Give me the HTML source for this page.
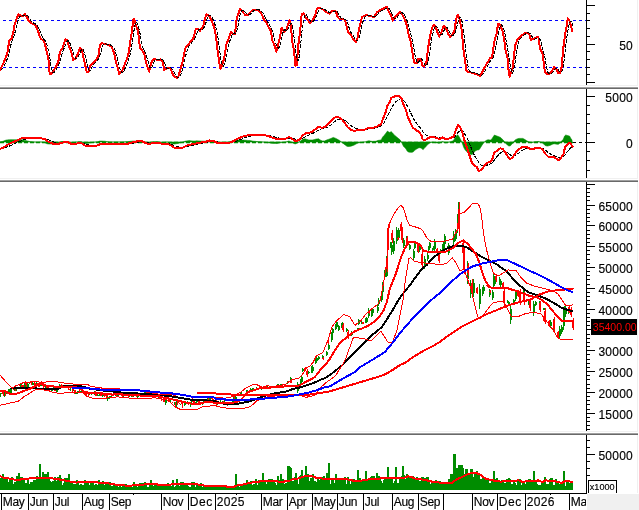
<!DOCTYPE html>
<html><head><meta charset="utf-8"><style>
html,body{margin:0;padding:0;background:#fff;}
body{width:639px;height:510px;overflow:hidden;}
svg{display:block;}
</style></head><body>
<svg width="639" height="510" viewBox="0 0 639 510">
<rect width="639" height="510" fill="#fff"/>
<rect x="0" y="85" width="637" height="1" fill="#f0f0f0"/>
<rect x="637" y="0" width="1" height="86" fill="#f0f0f0"/>
<rect x="0" y="178" width="637" height="1" fill="#f0f0f0"/>
<rect x="637" y="89" width="1" height="90" fill="#f0f0f0"/>
<rect x="0" y="431" width="637" height="1" fill="#f0f0f0"/>
<rect x="637" y="182" width="1" height="250" fill="#f0f0f0"/>
<rect x="637" y="435" width="1" height="58" fill="#f0f0f0"/>
<rect x="0" y="87" width="638" height="1" fill="#a0a0a0"/>
<rect x="0" y="88" width="638" height="1" fill="#696969"/>
<rect x="0" y="180" width="638" height="1" fill="#a0a0a0"/>
<rect x="0" y="181" width="638" height="1" fill="#696969"/>
<rect x="0" y="433" width="638" height="1" fill="#a0a0a0"/>
<rect x="0" y="434" width="638" height="1" fill="#696969"/>
<g shape-rendering="crispEdges">
<line x1="3" y1="20.5" x2="586" y2="20.5" stroke="#0000ff" stroke-width="1" stroke-dasharray="3 3"/>
<line x1="3" y1="67.5" x2="586" y2="67.5" stroke="#0000ff" stroke-width="1" stroke-dasharray="3 3"/>
</g>
<polyline points="0.0,70.0 3.3,63.3 5.8,57.5 7.5,52.5 9.2,40.8 11.7,38.3 13.3,32.5 14.2,25.8 16.7,18.3 18.7,14.2 20.8,15.8 23.3,15.8 25.0,14.2 26.7,16.7 29.2,21.7 31.7,23.3 34.2,24.2 35.8,25.8 38.3,31.7 40.0,37.5 41.3,39.2 43.3,40.0 45.0,44.2 46.7,51.7 48.3,57.5 49.2,70.0 50.0,74.2 51.7,73.3 55.0,68.3 58.3,61.7 60.0,51.7 62.5,48.3 65.3,39.2 66.7,40.0 69.2,46.7 71.7,53.3 73.3,60.0 75.8,58.3 78.3,52.5 80.0,47.5 82.0,50.0 83.3,56.7 85.0,64.2 86.7,71.7 88.3,72.5 90.0,65.8 92.5,63.3 95.8,60.0 98.3,56.7 100.0,45.0 101.7,43.0 104.2,44.2 108.3,44.7 111.7,46.7 114.2,53.3 115.8,61.7 117.5,66.7 119.2,74.2 121.7,71.7 124.2,65.8 126.7,59.2 128.3,55.0 130.0,43.3 131.7,33.3 133.3,20.0 134.2,19.2 135.8,25.0 138.0,30.8 140.0,48.3 142.5,50.8 144.2,53.3 145.8,61.7 147.5,66.7 149.2,71.7 150.8,64.2 152.5,60.0 155.0,58.8 157.5,60.3 160.8,59.2 163.0,62.5 164.2,70.0 166.7,68.3 170.0,67.5 171.7,71.7 174.2,76.7 176.7,78.0 178.3,76.7 180.8,68.3 182.5,61.7 184.2,53.3 185.8,46.7 188.3,44.7 190.8,40.8 193.3,38.3 195.8,29.2 198.3,29.2 200.0,30.8 203.3,25.8 205.0,18.3 206.7,14.2 209.2,15.8 211.7,20.8 214.2,27.5 215.8,35.0 217.5,50.0 219.2,61.7 220.3,68.7 221.7,66.7 224.2,58.3 226.7,43.3 229.2,37.5 230.8,31.7 232.5,33.3 235.0,34.2 236.7,18.3 238.3,14.2 240.0,8.7 242.5,11.7 245.0,14.7 248.3,14.7 250.8,11.7 253.3,9.5 256.7,9.5 259.2,10.8 261.7,14.2 264.2,20.0 266.7,23.3 269.2,28.3 270.8,30.8 272.5,40.8 274.7,45.8 276.3,51.7 278.3,44.2 280.0,36.7 281.7,27.5 284.2,31.7 286.3,30.0 288.3,23.3 289.5,20.0 290.8,25.0 292.5,43.3 294.2,51.7 295.3,65.8 296.7,65.0 298.3,45.0 300.0,33.0 301.7,14.2 303.7,13.3 305.8,17.5 308.3,20.8 310.3,23.0 312.5,20.0 315.0,15.8 316.7,9.2 319.2,7.5 322.5,9.2 325.8,11.7 329.2,13.7 332.5,10.8 335.8,11.3 337.5,16.7 339.2,18.7 342.5,18.8 345.0,20.0 346.7,26.7 348.3,32.5 350.8,35.0 353.3,39.2 355.8,42.5 357.5,38.3 359.2,28.3 360.8,21.7 362.0,16.7 364.2,16.3 366.7,15.0 370.0,16.3 374.2,16.7 376.7,12.5 380.0,10.3 383.3,8.7 386.7,7.0 388.3,10.8 390.8,15.0 392.8,20.8 395.0,17.5 397.5,14.2 400.0,11.7 402.5,15.0 405.0,20.0 406.7,25.0 408.3,33.3 410.8,41.7 412.5,53.3 414.2,62.5 416.7,63.0 418.3,58.7 420.8,58.7 422.2,65.8 424.2,66.7 426.3,63.3 428.3,46.7 430.0,36.7 432.0,27.5 434.2,25.0 435.8,27.5 437.5,32.5 439.2,36.7 441.3,32.5 443.7,25.8 445.8,27.5 448.3,34.2 450.0,36.7 452.5,34.2 454.2,31.7 455.8,21.7 457.2,15.3 458.3,15.3 460.0,20.8 461.7,30.0 463.3,48.3 465.0,60.0 466.3,70.8 468.3,72.0 470.8,72.5 474.2,73.3 477.5,74.7 480.0,75.8 482.5,71.7 485.0,66.7 487.5,62.5 490.0,58.3 492.0,57.5 493.3,48.3 495.0,38.3 496.7,33.3 498.0,24.2 499.2,23.7 500.8,26.7 502.5,30.8 504.2,40.0 505.8,51.7 507.5,57.5 508.7,71.7 509.7,76.7 510.8,73.3 512.5,68.3 514.2,55.0 515.0,45.8 517.5,39.2 520.0,36.7 522.5,35.0 525.0,32.5 527.5,32.5 530.0,35.8 530.8,40.0 532.5,39.2 535.0,38.3 538.3,36.7 540.0,48.3 542.5,53.3 544.2,66.7 545.0,72.5 547.5,74.2 550.0,73.3 552.5,70.0 554.2,66.7 556.3,69.2 558.3,73.3 560.0,73.3 561.7,66.7 563.3,48.3 565.0,35.0 566.7,25.8 567.8,18.3 569.2,20.0 570.8,25.0 572.2,30.8" fill="none" stroke="#ff0000" stroke-width="2" stroke-linejoin="round" stroke-linecap="round" shape-rendering="crispEdges" />
<polyline points="0.8,70.0 2.0,68.8 3.3,67.5 4.5,65.0 5.7,62.3 7.0,59.5 8.2,56.3 9.4,51.4 10.6,46.0 11.9,41.3 13.1,38.4 14.3,35.3 15.6,30.3 16.8,25.1 18.0,20.6 19.3,17.5 20.5,15.6 21.7,15.2 22.9,15.5 24.2,15.8 25.4,15.4 26.6,15.2 27.9,15.8 29.1,17.6 30.3,19.7 31.6,21.5 32.8,22.7 34.0,23.3 35.2,23.9 36.5,24.7 37.7,26.2 38.9,28.5 40.2,31.7 41.4,35.0 42.6,37.7 43.8,39.2 45.1,40.6 46.3,42.9 47.5,46.9 48.8,51.5 50.0,59.4 51.2,66.8 52.5,72.4 53.7,72.9 54.9,71.5 56.1,69.6 57.4,67.5 58.6,65.1 59.8,61.7 61.1,57.1 62.3,52.8 63.5,49.5 64.8,46.9 66.0,43.6 67.2,41.0 68.4,40.6 69.7,42.7 70.9,45.8 72.1,49.1 73.4,52.8 74.6,56.3 75.8,58.5 77.1,58.6 78.3,56.8 79.5,54.3 80.7,51.1 82.0,49.3 83.2,49.6 84.4,53.1 85.7,58.0 86.9,63.6 88.1,68.2 89.4,70.8 90.6,70.0 91.8,67.6 93.1,65.0 94.3,63.5 95.5,62.3 96.7,61.1 98.0,59.7 99.2,58.0 100.4,53.9 101.7,49.2 102.9,44.9 104.1,43.7 105.4,43.7 106.6,44.1 107.8,44.4 109.0,44.5 110.3,44.9 111.5,45.4 112.7,46.3 114.0,48.0 115.2,50.7 116.4,55.2 117.7,59.9 118.9,64.9 120.1,69.4 121.3,72.1 122.6,72.8 123.8,71.0 125.0,68.6 126.3,65.6 127.5,62.5 128.7,59.2 130.0,54.8 131.2,48.7 132.4,41.3 133.6,32.9 134.9,25.7 136.1,22.1 137.3,23.1 138.6,26.8 139.8,32.2 141.0,39.4 142.3,45.9 143.5,49.8 144.7,51.2 145.9,54.1 147.2,58.2 148.4,62.9 149.6,67.0 150.9,68.4 152.1,67.1 153.3,63.5 154.5,60.8 155.8,59.4 157.0,59.2 158.2,59.5 159.5,59.9 160.7,59.9 161.9,59.7 163.2,60.2 164.4,62.5 165.6,65.8 166.8,68.2 168.1,68.8 169.3,68.3 170.5,67.9 171.8,68.4 173.0,70.1 174.2,72.6 175.5,74.9 176.7,76.6 177.9,77.4 179.1,77.3 180.4,75.5 181.6,72.4 182.8,68.0 184.1,63.2 185.3,57.8 186.5,52.3 187.8,48.3 189.0,45.8 190.2,44.5 191.4,42.9 192.7,41.2 193.9,39.7 195.1,37.6 196.4,34.3 197.6,31.3 198.8,29.5 200.1,29.5 201.3,29.8 202.5,29.5 203.7,28.2 205.0,25.5 206.2,21.9 207.4,17.9 208.7,15.5 209.9,15.0 211.1,16.2 212.4,18.1 213.6,20.8 214.8,23.8 216.0,27.7 217.3,33.5 218.5,41.6 219.7,50.8 221.0,59.7 222.2,65.0 223.4,66.2 224.7,63.4 225.9,58.7 227.1,52.7 228.3,46.6 229.6,41.8 230.8,38.1 232.0,35.1 233.3,33.3 234.5,33.0 235.7,33.7 237.0,30.4 238.2,24.7 239.4,17.7 240.6,13.0 241.9,10.8 243.1,10.2 244.3,11.5 245.6,12.9 246.8,14.0 248.0,14.6 249.3,14.6 250.5,14.1 251.7,13.0 252.9,11.7 254.2,10.5 255.4,9.8 256.6,9.5 257.9,9.6 259.1,9.8 260.3,10.4 261.6,11.5 262.8,13.0 264.0,15.2 265.2,17.6 266.5,20.0 267.7,22.0 268.9,24.0 270.2,26.2 271.4,28.4 272.6,32.0 273.9,36.5 275.1,41.3 276.3,45.3 277.5,47.9 278.8,48.1 280.0,45.2 281.2,40.0 282.5,34.1 283.7,30.5 284.9,29.6 286.2,30.6 287.4,30.5 288.6,28.2 289.8,25.1 291.1,23.0 292.3,25.6 293.5,33.4 294.8,42.6 296.0,53.2 297.2,60.1 298.5,60.9 299.7,53.0 300.9,41.8 302.1,30.2 303.4,21.2 304.6,15.1 305.8,14.4 307.1,15.9 308.3,17.9 309.5,19.7 310.8,21.2 312.0,21.9 313.2,21.5 314.4,20.0 315.7,18.1 316.9,15.2 318.1,12.1 319.4,9.4 320.6,8.2 321.8,8.1 323.1,8.4 324.3,9.2 325.5,10.0 326.8,10.9 328.0,11.7 329.2,12.5 330.4,13.0 331.7,12.9 332.9,12.2 334.1,11.4 335.4,11.1 336.6,11.1 337.8,12.5 339.1,14.7 340.3,17.2 341.5,18.3 342.7,18.7 344.0,18.9 345.2,19.2 346.4,20.4 347.7,23.2 348.9,27.2 350.1,30.8 351.4,33.3 352.6,35.0 353.8,36.7 355.0,38.6 356.3,40.4 357.5,40.9 358.7,39.4 360.0,34.9 361.2,29.2 362.4,23.4 363.7,19.4 364.9,17.1 366.1,16.2 367.3,15.7 368.6,15.4 369.8,15.5 371.0,15.9 372.3,16.2 373.5,16.4 374.7,16.6 376.0,16.1 377.2,14.9 378.4,13.3 379.6,12.0 380.9,11.1 382.1,10.3 383.3,9.7 384.6,9.1 385.8,8.5 387.0,7.9 388.3,8.0 389.5,9.2 390.7,11.2 391.9,13.6 393.2,16.3 394.4,18.4 395.6,19.0 396.9,17.8 398.1,16.1 399.3,14.6 400.6,13.2 401.8,12.7 403.0,13.2 404.2,14.8 405.5,16.9 406.7,19.6 407.9,23.1 409.2,27.8 410.4,32.8 411.6,37.7 412.9,43.2 414.1,49.9 415.3,56.8 416.5,61.0 417.8,62.5 419.0,61.4 420.2,60.0 421.5,58.8 422.7,60.5 423.9,63.0 425.2,65.6 426.4,65.7 427.6,63.3 428.8,57.5 430.1,49.6 431.3,41.4 432.5,34.7 433.8,29.9 435.0,26.7 436.2,26.1 437.5,27.3 438.7,30.1 439.9,33.3 441.1,34.8 442.4,34.2 443.6,31.5 444.8,28.7 446.1,27.1 447.3,27.5 448.5,29.7 449.8,32.4 451.0,34.8 452.2,35.7 453.4,35.3 454.7,33.8 455.9,30.8 457.1,25.8 458.4,20.2 459.6,17.2 460.8,17.7 462.1,21.8 463.3,29.1 464.5,39.2 465.7,49.9 467.0,60.1 468.2,66.9 469.4,71.1 470.7,71.9 471.9,72.3 473.1,72.6 474.4,72.9 475.6,73.2 476.8,73.6 478.0,74.1 479.3,74.6 480.5,75.1 481.7,75.0 483.0,74.1 484.2,72.2 485.4,69.9 486.7,67.6 487.9,65.3 489.1,63.2 490.3,61.1 491.6,59.4 492.8,58.2 494.0,54.8 495.3,49.3 496.5,42.2 497.7,36.5 499.0,30.7 500.2,26.6 501.4,24.8 502.6,26.5 503.9,29.8 505.1,34.6 506.3,41.4 507.6,48.5 508.8,56.0 510.0,64.2 511.3,70.7 512.5,73.1 513.7,70.1 514.9,63.8 516.2,55.1 517.4,47.3 518.6,41.8 519.9,39.4 521.1,37.7 522.3,36.6 523.6,35.6 524.8,34.6 526.0,33.6 527.2,32.8 528.5,32.6 529.7,33.2 530.9,34.5 532.2,36.9 533.4,38.5 534.6,39.2 535.9,38.7 537.1,38.2 538.3,37.7 539.5,38.2 540.8,41.6 542.0,46.2 543.2,50.7 544.5,55.4 545.7,62.4 546.9,69.1 548.2,73.0 549.4,73.7 550.6,73.8 551.8,73.0 553.1,71.9 554.3,70.1 555.5,68.6 556.8,68.1 558.0,69.1 559.2,71.0 560.5,72.5 561.7,72.2 562.9,68.4 564.1,60.0 565.4,49.4 566.6,39.0 567.8,30.9 569.1,24.4 570.3,21.1 571.5,21.5 572.8,25.1" fill="none" stroke="#000000" stroke-width="1" stroke-linejoin="round" stroke-linecap="round" shape-rendering="crispEdges" stroke-dasharray="3 2"/>
<path d="M0.0,142 L0.0,142.0 L1.2,141.7 L2.5,141.4 L3.7,141.0 L4.9,140.5 L6.2,140.1 L7.4,139.9 L8.6,139.8 L9.8,139.8 L11.1,139.7 L12.3,139.7 L13.5,139.7 L14.8,139.8 L16.0,139.8 L17.2,139.8 L18.5,139.7 L19.7,139.7 L20.9,139.8 L22.1,139.8 L23.4,140.0 L24.6,140.4 L25.8,140.6 L27.1,140.9 L28.3,141.2 L29.5,141.5 L30.8,141.7 L32.0,141.8 L33.2,141.9 L34.4,142.0 L35.7,142.1 L36.9,142.1 L38.1,142.1 L39.4,142.0 L40.6,142.0 L41.8,142.1 L43.0,142.2 L44.3,142.3 L45.5,142.9 L46.7,143.7 L48.0,143.9 L49.2,144.0 L50.4,144.0 L51.7,144.0 L52.9,144.0 L54.1,144.0 L55.3,143.6 L56.6,143.3 L57.8,143.0 L59.0,142.5 L60.3,142.0 L61.5,141.6 L62.7,141.5 L64.0,141.5 L65.2,141.5 L66.4,141.5 L67.6,141.6 L68.9,142.2 L70.1,142.7 L71.3,142.8 L72.6,142.8 L73.8,142.8 L75.0,142.4 L76.3,142.1 L77.5,141.9 L78.7,141.7 L79.9,141.8 L81.2,141.8 L82.4,142.4 L83.6,143.0 L84.9,143.5 L86.1,143.5 L87.3,143.3 L88.6,143.2 L89.8,143.0 L91.0,142.7 L92.3,142.5 L93.5,142.3 L94.7,142.2 L95.9,142.0 L97.2,141.9 L98.4,141.5 L99.6,141.1 L100.9,141.1 L102.1,141.1 L103.3,141.2 L104.6,141.2 L105.8,141.4 L107.0,141.7 L108.2,141.8 L109.5,142.0 L110.7,142.0 L111.9,142.0 L113.2,142.0 L114.4,142.0 L115.6,142.0 L116.9,142.0 L118.1,142.0 L119.3,142.0 L120.5,142.0 L121.8,142.0 L123.0,141.9 L124.2,141.9 L125.5,141.8 L126.7,141.8 L127.9,141.7 L129.2,141.5 L130.4,141.3 L131.6,141.2 L132.8,141.1 L134.1,141.1 L135.3,141.1 L136.5,141.1 L137.8,141.1 L139.0,141.3 L140.2,141.4 L141.5,141.5 L142.7,141.8 L143.9,142.4 L145.1,143.0 L146.4,143.1 L147.6,143.1 L148.8,143.1 L150.1,142.8 L151.3,142.3 L152.5,142.0 L153.7,141.8 L155.0,141.8 L156.2,141.7 L157.4,141.7 L158.7,142.0 L159.9,142.3 L161.1,142.5 L162.4,142.7 L163.6,142.6 L164.8,142.4 L166.0,142.2 L167.3,142.0 L168.5,142.5 L169.7,143.0 L171.0,143.3 L172.2,143.6 L173.4,143.9 L174.7,144.0 L175.9,143.8 L177.1,143.6 L178.3,143.4 L179.6,143.0 L180.8,142.7 L182.0,142.5 L183.3,141.9 L184.5,141.4 L185.7,141.1 L187.0,140.9 L188.2,140.7 L189.4,140.6 L190.6,140.8 L191.9,140.9 L193.1,141.0 L194.3,141.0 L195.6,140.9 L196.8,140.8 L198.0,140.9 L199.3,140.9 L200.5,141.0 L201.7,141.1 L202.9,141.1 L204.2,141.2 L205.4,141.1 L206.6,141.0 L207.9,140.8 L209.1,140.7 L210.3,141.0 L211.6,141.3 L212.8,141.5 L214.0,141.7 L215.2,142.4 L216.5,143.1 L217.7,143.2 L218.9,142.9 L220.2,142.7 L221.4,142.5 L222.6,142.4 L223.9,142.4 L225.1,142.3 L226.3,142.3 L227.5,142.3 L228.8,142.1 L230.0,141.7 L231.2,141.3 L232.5,141.1 L233.7,140.7 L234.9,140.4 L236.2,140.1 L237.4,140.0 L238.6,140.0 L239.8,140.0 L241.1,140.0 L242.3,140.1 L243.5,140.1 L244.8,140.2 L246.0,140.3 L247.2,140.4 L248.5,140.5 L249.7,140.5 L250.9,140.7 L252.1,141.0 L253.4,141.2 L254.6,141.3 L255.8,141.4 L257.1,141.6 L258.3,141.7 L259.5,141.7 L260.8,141.8 L262.0,141.9 L263.2,142.0 L264.4,142.2 L265.7,142.4 L266.9,142.6 L268.1,142.8 L269.4,142.9 L270.6,143.1 L271.8,143.2 L273.1,143.3 L274.3,143.4 L275.5,143.4 L276.7,143.5 L278.0,143.2 L279.2,142.9 L280.4,142.8 L281.7,142.6 L282.9,142.4 L284.1,142.2 L285.4,142.0 L286.6,141.8 L287.8,141.3 L289.0,140.9 L290.3,141.7 L291.5,142.4 L292.7,143.0 L294.0,143.5 L295.2,143.9 L296.4,143.4 L297.7,142.7 L298.9,142.1 L300.1,141.4 L301.3,140.2 L302.6,139.2 L303.8,139.0 L305.0,138.8 L306.3,139.2 L307.5,139.6 L308.7,140.0 L310.0,140.0 L311.2,140.0 L312.4,140.0 L313.6,139.7 L314.9,139.4 L316.1,139.1 L317.3,138.9 L318.6,138.8 L319.8,139.7 L321.0,140.4 L322.3,140.9 L323.5,140.9 L324.7,140.9 L326.0,140.3 L327.2,139.8 L328.4,139.4 L329.6,138.9 L330.9,138.6 L332.1,137.9 L333.3,137.4 L334.6,137.9 L335.8,138.4 L337.0,139.1 L338.3,139.8 L339.5,140.4 L340.7,141.4 L341.9,142.3 L343.2,143.4 L344.4,144.4 L345.6,145.3 L346.9,146.2 L348.1,146.5 L349.3,146.4 L350.6,146.3 L351.8,145.9 L353.0,145.4 L354.2,145.0 L355.5,144.3 L356.7,143.6 L357.9,143.0 L359.2,142.8 L360.4,142.6 L361.6,142.5 L362.9,142.2 L364.1,142.0 L365.3,141.9 L366.5,141.4 L367.8,141.0 L369.0,140.8 L370.2,141.1 L371.5,141.3 L372.7,141.4 L373.9,141.3 L375.2,141.3 L376.4,141.1 L377.6,140.6 L378.8,140.3 L380.1,140.2 L381.3,139.7 L382.5,137.3 L383.8,135.7 L385.0,134.6 L386.2,132.8 L387.5,131.1 L388.7,132.0 L389.9,132.6 L391.1,131.6 L392.4,132.8 L393.6,134.2 L394.8,135.5 L396.1,136.6 L397.3,137.5 L398.5,138.5 L399.8,139.6 L401.0,141.2 L402.2,143.6 L403.4,146.2 L404.7,147.6 L405.9,148.7 L407.1,150.9 L408.4,151.9 L409.6,152.2 L410.8,152.3 L412.1,152.3 L413.3,151.8 L414.5,150.6 L415.7,149.6 L417.0,148.7 L418.2,148.1 L419.4,147.7 L420.7,147.9 L421.9,148.5 L423.1,149.7 L424.4,148.1 L425.6,146.9 L426.8,145.6 L428.0,144.2 L429.3,143.2 L430.5,142.7 L431.7,142.3 L433.0,142.2 L434.2,142.5 L435.4,142.6 L436.7,142.9 L437.9,143.1 L439.1,143.3 L440.3,142.7 L441.6,142.1 L442.8,141.6 L444.0,142.2 L445.3,142.8 L446.5,142.7 L447.7,142.4 L449.0,142.1 L450.2,141.9 L451.4,141.4 L452.6,141.0 L453.9,140.0 L455.1,137.7 L456.3,136.0 L457.6,134.8 L458.8,136.3 L460.0,138.4 L461.3,141.0 L462.5,143.8 L463.7,147.3 L464.9,149.5 L466.2,151.1 L467.4,152.2 L468.6,153.1 L469.9,153.9 L471.1,154.5 L472.3,154.4 L473.6,152.8 L474.8,151.6 L476.0,150.4 L477.2,149.9 L478.5,150.1 L479.7,148.9 L480.9,147.0 L482.2,144.9 L483.4,143.0 L484.6,141.7 L485.9,140.7 L487.1,140.0 L488.3,139.8 L489.5,139.9 L490.8,139.9 L492.0,138.8 L493.2,136.8 L494.5,135.0 L495.7,135.6 L496.9,136.1 L498.2,136.5 L499.4,136.9 L500.6,137.5 L501.8,138.8 L503.1,139.9 L504.3,141.6 L505.5,143.0 L506.8,144.4 L508.0,145.6 L509.2,146.0 L510.5,145.7 L511.7,144.3 L512.9,143.1 L514.1,141.3 L515.4,139.8 L516.6,139.2 L517.8,138.7 L519.1,138.4 L520.3,138.4 L521.5,138.4 L522.8,138.4 L524.0,139.1 L525.2,139.7 L526.4,140.6 L527.7,141.3 L528.9,142.0 L530.1,142.3 L531.4,142.6 L532.6,142.4 L533.8,142.1 L535.1,141.8 L536.3,141.7 L537.5,141.6 L538.7,141.5 L540.0,142.0 L541.2,142.3 L542.4,142.7 L543.7,144.1 L544.9,145.3 L546.1,145.8 L547.4,146.0 L548.6,145.8 L549.8,145.4 L551.0,144.9 L552.3,144.3 L553.5,143.9 L554.7,143.8 L556.0,144.1 L557.2,144.3 L558.4,144.3 L559.7,143.2 L560.9,142.0 L562.1,140.6 L563.3,139.3 L564.6,136.0 L565.8,135.0 L567.0,135.4 L568.3,135.8 L569.5,136.0 L570.7,138.2 L572.0,140.1 L572.0,142 Z" fill="#008c00" stroke="#008c00" stroke-width="0.6"/>
<line x1="0" y1="142.5" x2="573" y2="142.5" stroke="#008c00" stroke-width="1.6" stroke-dasharray="4 2"/>
<line x1="573" y1="142.5" x2="586" y2="142.5" stroke="#000" stroke-width="1" stroke-dasharray="3 3" shape-rendering="crispEdges"/>
<polyline points="0.0,148.9 1.2,148.8 2.5,148.7 3.7,148.4 4.9,148.0 6.2,147.5 7.4,147.0 8.6,146.5 9.8,145.9 11.1,145.3 12.3,144.8 13.5,144.2 14.8,143.6 16.0,143.1 17.2,142.5 18.5,142.0 19.7,141.4 20.9,140.9 22.1,140.3 23.4,139.8 24.6,139.4 25.8,139.1 27.1,138.8 28.3,138.6 29.5,138.4 30.8,138.4 32.0,138.3 33.2,138.3 34.4,138.3 35.7,138.3 36.9,138.3 38.1,138.3 39.4,138.4 40.6,138.4 41.8,138.4 43.0,138.5 44.3,138.5 45.5,138.8 46.7,139.2 48.0,139.7 49.2,140.2 50.4,140.7 51.7,141.2 52.9,141.7 54.1,142.2 55.3,142.6 56.6,142.9 57.8,143.2 59.0,143.3 60.3,143.3 61.5,143.2 62.7,143.0 64.0,142.9 65.2,142.8 66.4,142.6 67.6,142.5 68.9,142.6 70.1,142.7 71.3,142.9 72.6,143.2 73.8,143.4 75.0,143.5 76.3,143.5 77.5,143.5 78.7,143.4 79.9,143.3 81.2,143.3 82.4,143.4 83.6,143.6 84.9,144.0 86.1,144.4 87.3,144.7 88.6,145.0 89.8,145.2 91.0,145.4 92.3,145.5 93.5,145.6 94.7,145.6 95.9,145.6 97.2,145.6 98.4,145.5 99.6,145.3 100.9,145.0 102.1,144.8 103.3,144.6 104.6,144.4 105.8,144.3 107.0,144.2 108.2,144.1 109.5,144.1 110.7,144.1 111.9,144.1 113.2,144.1 114.4,144.1 115.6,144.1 116.9,144.1 118.1,144.1 119.3,144.1 120.5,144.1 121.8,144.1 123.0,144.1 124.2,144.1 125.5,144.0 126.7,143.9 127.9,143.9 129.2,143.8 130.4,143.6 131.6,143.4 132.8,143.2 134.1,142.9 135.3,142.7 136.5,142.5 137.8,142.2 139.0,142.0 140.2,141.9 141.5,141.8 142.7,141.7 143.9,141.8 145.1,142.1 146.4,142.3 147.6,142.6 148.8,142.9 150.1,143.1 151.3,143.2 152.5,143.2 153.7,143.1 155.0,143.0 156.2,143.0 157.4,142.9 158.7,142.9 159.9,143.0 161.1,143.1 162.4,143.3 163.6,143.4 164.8,143.5 166.0,143.6 167.3,143.6 168.5,143.7 169.7,143.9 171.0,144.3 172.2,144.7 173.4,145.2 174.7,145.7 175.9,146.1 177.1,146.5 178.3,146.9 179.6,147.1 180.8,147.3 182.0,147.4 183.3,147.4 184.5,147.3 185.7,147.0 187.0,146.8 188.2,146.4 189.4,146.1 190.6,145.8 191.9,145.5 193.1,145.2 194.3,145.0 195.6,144.7 196.8,144.4 198.0,144.1 199.3,143.9 200.5,143.6 201.7,143.4 202.9,143.1 204.2,142.9 205.4,142.7 206.6,142.5 207.9,142.2 209.1,141.9 210.3,141.6 211.6,141.4 212.8,141.3 214.0,141.3 215.2,141.4 216.5,141.6 217.7,141.9 218.9,142.2 220.2,142.3 221.4,142.5 222.6,142.6 223.9,142.6 225.1,142.7 226.3,142.8 227.5,142.9 228.8,142.9 230.0,142.8 231.2,142.6 232.5,142.4 233.7,142.1 234.9,141.7 236.2,141.2 237.4,140.7 238.6,140.2 239.8,139.7 241.1,139.2 242.3,138.8 243.5,138.3 244.8,137.8 246.0,137.4 247.2,137.0 248.5,136.6 249.7,136.3 250.9,135.9 252.1,135.7 253.4,135.5 254.6,135.3 255.8,135.2 257.1,135.1 258.3,135.0 259.5,134.9 260.8,134.9 262.0,134.8 263.2,134.8 264.4,134.9 265.7,135.0 266.9,135.1 268.1,135.3 269.4,135.6 270.6,135.8 271.8,136.1 273.1,136.5 274.3,136.8 275.5,137.2 276.7,137.5 278.0,137.8 279.2,138.1 280.4,138.2 281.7,138.4 282.9,138.5 284.1,138.5 285.4,138.5 286.6,138.5 287.8,138.3 289.0,138.0 290.3,138.0 291.5,138.1 292.7,138.3 294.0,138.7 295.2,139.2 296.4,139.5 297.7,139.7 298.9,139.7 300.1,139.6 301.3,139.1 302.6,138.4 303.8,137.7 305.0,136.9 306.3,136.2 307.5,135.6 308.7,135.1 310.0,134.6 311.2,134.1 312.4,133.6 313.6,133.0 314.9,132.3 316.1,131.6 317.3,130.8 318.6,130.0 319.8,129.5 321.0,129.1 322.3,128.8 323.5,128.5 324.7,128.2 326.0,127.8 327.2,127.3 328.4,126.6 329.6,125.8 330.9,125.0 332.1,124.0 333.3,122.8 334.6,121.8 335.8,120.9 337.0,120.1 338.3,119.6 339.5,119.2 340.7,119.0 341.9,119.1 343.2,119.5 344.4,120.1 345.6,120.9 346.9,121.9 348.1,123.1 349.3,124.2 350.6,125.2 351.8,126.2 353.0,127.1 354.2,127.8 355.5,128.4 356.7,128.8 357.9,129.1 359.2,129.2 360.4,129.4 361.6,129.5 362.9,129.6 364.1,129.6 365.3,129.5 366.5,129.4 367.8,129.2 369.0,128.9 370.2,128.6 371.5,128.4 372.7,128.3 373.9,128.1 375.2,128.0 376.4,127.7 377.6,127.4 378.8,127.0 380.1,126.5 381.3,125.9 382.5,124.7 383.8,123.2 385.0,121.3 386.2,119.0 387.5,116.3 388.7,113.8 389.9,111.4 391.1,108.8 392.4,106.5 393.6,104.6 394.8,103.0 396.1,101.6 397.3,100.5 398.5,99.6 399.8,99.0 401.0,98.8 402.2,99.2 403.4,100.3 404.7,101.6 405.9,103.3 407.1,105.6 408.4,108.0 409.6,110.6 410.8,113.2 412.1,115.7 413.3,118.2 414.5,120.3 415.7,122.2 417.0,123.9 418.2,125.4 419.4,126.8 420.7,128.3 421.9,129.9 423.1,131.8 424.4,133.4 425.6,134.6 426.8,135.5 428.0,136.0 429.3,136.3 430.5,136.5 431.7,136.6 433.0,136.6 434.2,136.8 435.4,136.9 436.7,137.1 437.9,137.4 439.1,137.7 440.3,137.9 441.6,137.9 442.8,137.8 444.0,137.9 445.3,138.1 446.5,138.3 447.7,138.4 449.0,138.4 450.2,138.3 451.4,138.2 452.6,137.9 453.9,137.5 455.1,136.4 456.3,134.9 457.6,133.1 458.8,131.6 460.0,130.8 461.3,130.5 462.5,131.0 463.7,132.3 464.9,134.2 466.2,136.4 467.4,139.0 468.6,141.7 469.9,144.7 471.1,147.8 472.3,150.9 473.6,153.6 474.8,156.1 476.0,158.2 477.2,160.1 478.5,162.1 479.7,163.9 480.9,165.1 482.2,165.9 483.4,166.1 484.6,166.0 485.9,165.7 487.1,165.2 488.3,164.7 489.5,164.1 490.8,163.6 492.0,162.8 493.2,161.5 494.5,159.7 495.7,158.1 496.9,156.7 498.2,155.3 499.4,154.0 500.6,152.9 501.8,152.1 503.1,151.6 504.3,151.5 505.5,151.7 506.8,152.3 508.0,153.2 509.2,154.2 510.5,155.1 511.7,155.7 512.9,156.0 514.1,155.8 515.4,155.3 516.6,154.5 517.8,153.7 519.1,152.8 520.3,151.9 521.5,151.0 522.8,150.1 524.0,149.4 525.2,148.8 526.4,148.5 527.7,148.3 528.9,148.3 530.1,148.4 531.4,148.5 532.6,148.6 533.8,148.6 535.1,148.6 536.3,148.5 537.5,148.4 538.7,148.3 540.0,148.3 541.2,148.3 542.4,148.5 543.7,149.0 544.9,149.9 546.1,150.8 547.4,151.8 548.6,152.8 549.8,153.6 551.0,154.4 552.3,155.0 553.5,155.4 554.7,155.9 556.0,156.4 557.2,157.0 558.4,157.5 559.7,157.8 560.9,157.8 562.1,157.5 563.3,156.8 564.6,155.3 565.8,153.6 567.0,151.9 568.3,150.4 569.5,148.9 570.7,147.9 572.0,147.5" fill="none" stroke="#000000" stroke-width="1" stroke-linejoin="round" stroke-linecap="round" shape-rendering="crispEdges" stroke-dasharray="3 2"/>
<polyline points="0.0,148.9 3.1,147.8 6.3,145.5 9.4,143.9 12.5,142.3 15.7,141.1 18.8,139.5 22.7,137.9 26.6,137.6 31.3,138.1 36.0,138.4 40.8,138.4 44.7,138.9 47.0,141.1 50.2,142.6 54.1,144.2 58.0,144.2 61.9,142.6 67.4,142.0 70.5,143.6 73.7,144.2 78.4,143.1 81.5,143.1 85.4,145.8 89.3,146.2 94.0,145.9 97.2,145.5 100.0,144.2 104.7,143.6 109.4,144.1 115.6,144.1 121.9,144.1 128.2,143.6 131.3,142.6 137.6,141.3 142.3,141.3 145.4,143.2 149.3,144.1 153.2,142.9 157.9,142.6 162.6,144.1 167.3,143.6 171.2,145.7 174.3,147.6 178.2,148.3 182.2,147.9 185.3,146.3 189.2,144.7 193.9,144.1 197.0,143.2 200.0,142.6 204.7,142.1 209.4,140.5 214.1,141.0 217.2,143.2 221.9,142.9 228.2,143.2 232.9,141.3 236.8,139.0 240.7,137.4 245.4,135.8 250.1,134.7 256.3,134.6 262.6,134.7 267.3,135.8 272.0,137.4 276.7,139.0 281.4,139.0 286.1,138.5 289.2,136.9 292.3,139.0 295.5,141.3 298.6,140.0 300.0,139.1 302.6,135.6 305.3,133.5 308.8,133.0 312.3,131.7 315.9,128.9 318.5,126.8 322.0,127.7 324.7,127.2 328.2,124.2 330.9,121.5 333.5,118.0 336.2,117.1 339.7,117.6 342.3,119.7 345.0,123.3 347.6,127.2 351.1,130.0 354.7,130.9 358.2,130.0 361.7,130.0 365.3,129.4 368.8,127.7 372.3,127.7 375.8,127.2 378.5,125.4 381.1,124.2 382.9,118.9 385.5,112.7 387.3,105.6 389.9,102.1 391.4,97.7 394.4,96.5 397.9,95.9 399.7,96.5 401.5,98.6 403.2,103.9 405.9,110.0 407.6,116.2 410.3,122.4 412.9,127.7 416.5,130.3 419.1,132.1 421.7,135.6 422.6,139.5 426.2,139.5 428.8,137.7 432.3,136.7 435.9,137.7 439.4,139.1 442.9,137.4 445.6,139.1 450.0,138.3 453.5,136.5 456.1,129.4 457.9,125.0 460.5,127.7 462.3,132.1 464.1,139.1 465.8,144.4 468.5,152.4 470.2,157.7 472.0,163.0 474.7,165.6 476.8,167.2 479.0,171.2 481.3,169.9 484.0,166.3 487.6,162.7 491.2,161.4 493.0,157.3 493.9,153.2 496.6,151.0 500.2,148.3 502.9,149.2 505.6,152.8 508.3,157.3 510.1,159.1 512.8,157.3 515.5,152.8 519.1,149.2 522.7,146.5 525.4,146.5 529.0,148.3 531.7,149.2 535.3,148.3 538.9,147.8 542.5,149.2 545.2,153.7 547.9,156.4 550.6,157.3 554.2,157.3 556.9,159.1 558.7,160.0 561.4,157.3 563.6,153.7 565.0,147.4 567.7,144.7 569.5,142.9 571.3,144.7 572.6,146.5" fill="none" stroke="#ff0000" stroke-width="2" stroke-linejoin="round" stroke-linecap="round" shape-rendering="crispEdges" />
<defs><clipPath id="c3"><rect x="0" y="182" width="586" height="249"/></clipPath></defs>
<g clip-path="url(#c3)">
<rect x="0" y="393" width="1" height="4" fill="#008c00"/>
<rect x="0" y="393" width="2" height="1" fill="#008c00"/>
<rect x="2" y="391" width="1" height="3" fill="#ff0000"/>
<rect x="2" y="392" width="2" height="2" fill="#ff0000"/>
<rect x="3" y="393" width="1" height="3" fill="#ff0000"/>
<rect x="3" y="394" width="2" height="2" fill="#ff0000"/>
<rect x="4" y="392" width="1" height="5" fill="#008c00"/>
<rect x="4" y="394" width="2" height="2" fill="#008c00"/>
<rect x="5" y="393" width="1" height="3" fill="#ff0000"/>
<rect x="6" y="393" width="1" height="1" fill="#008c00"/>
<rect x="8" y="389" width="1" height="4" fill="#008c00"/>
<rect x="8" y="391" width="2" height="1" fill="#008c00"/>
<rect x="9" y="389" width="1" height="3" fill="#008c00"/>
<rect x="10" y="388" width="1" height="5" fill="#008c00"/>
<rect x="10" y="389" width="2" height="3" fill="#008c00"/>
<rect x="11" y="389" width="1" height="4" fill="#008c00"/>
<rect x="13" y="389" width="1" height="1" fill="#ff0000"/>
<rect x="14" y="389" width="1" height="2" fill="#008c00"/>
<rect x="14" y="389" width="2" height="1" fill="#008c00"/>
<rect x="15" y="389" width="1" height="2" fill="#ff0000"/>
<rect x="15" y="389" width="2" height="1" fill="#ff0000"/>
<rect x="16" y="388" width="1" height="3" fill="#008c00"/>
<rect x="18" y="387" width="1" height="2" fill="#008c00"/>
<rect x="18" y="387" width="2" height="2" fill="#008c00"/>
<rect x="19" y="384" width="1" height="2" fill="#ff0000"/>
<rect x="20" y="384" width="1" height="3" fill="#008c00"/>
<rect x="20" y="384" width="2" height="2" fill="#008c00"/>
<rect x="21" y="385" width="1" height="2" fill="#ff0000"/>
<rect x="22" y="385" width="1" height="3" fill="#ff0000"/>
<rect x="22" y="385" width="2" height="2" fill="#ff0000"/>
<rect x="24" y="383" width="1" height="5" fill="#008c00"/>
<rect x="24" y="384" width="2" height="3" fill="#008c00"/>
<rect x="25" y="381" width="1" height="4" fill="#ff0000"/>
<rect x="25" y="383" width="2" height="2" fill="#ff0000"/>
<rect x="26" y="384" width="1" height="3" fill="#ff0000"/>
<rect x="27" y="383" width="1" height="3" fill="#008c00"/>
<rect x="27" y="384" width="2" height="3" fill="#008c00"/>
<rect x="29" y="383" width="1" height="1" fill="#008c00"/>
<rect x="30" y="382" width="1" height="1" fill="#ff0000"/>
<rect x="31" y="382" width="1" height="3" fill="#ff0000"/>
<rect x="31" y="382" width="2" height="2" fill="#ff0000"/>
<rect x="32" y="382" width="1" height="3" fill="#008c00"/>
<rect x="32" y="383" width="2" height="2" fill="#008c00"/>
<rect x="34" y="382" width="1" height="4" fill="#ff0000"/>
<rect x="34" y="383" width="2" height="3" fill="#ff0000"/>
<rect x="35" y="385" width="1" height="3" fill="#008c00"/>
<rect x="36" y="382" width="1" height="3" fill="#008c00"/>
<rect x="36" y="383" width="2" height="1" fill="#008c00"/>
<rect x="37" y="383" width="1" height="3" fill="#ff0000"/>
<rect x="37" y="384" width="2" height="1" fill="#ff0000"/>
<rect x="38" y="384" width="1" height="2" fill="#ff0000"/>
<rect x="38" y="385" width="2" height="2" fill="#ff0000"/>
<rect x="40" y="382" width="1" height="4" fill="#008c00"/>
<rect x="40" y="383" width="2" height="3" fill="#008c00"/>
<rect x="41" y="381" width="1" height="4" fill="#ff0000"/>
<rect x="42" y="383" width="1" height="3" fill="#ff0000"/>
<rect x="42" y="383" width="2" height="3" fill="#ff0000"/>
<rect x="43" y="386" width="1" height="3" fill="#ff0000"/>
<rect x="43" y="386" width="2" height="1" fill="#ff0000"/>
<rect x="45" y="386" width="1" height="3" fill="#008c00"/>
<rect x="45" y="386" width="2" height="1" fill="#008c00"/>
<rect x="46" y="385" width="1" height="3" fill="#ff0000"/>
<rect x="47" y="387" width="1" height="2" fill="#ff0000"/>
<rect x="47" y="387" width="2" height="1" fill="#ff0000"/>
<rect x="48" y="388" width="1" height="2" fill="#008c00"/>
<rect x="49" y="388" width="1" height="4" fill="#ff0000"/>
<rect x="49" y="388" width="2" height="2" fill="#ff0000"/>
<rect x="51" y="388" width="1" height="4" fill="#008c00"/>
<rect x="51" y="389" width="2" height="2" fill="#008c00"/>
<rect x="52" y="388" width="1" height="3" fill="#008c00"/>
<rect x="53" y="387" width="1" height="3" fill="#008c00"/>
<rect x="53" y="388" width="2" height="1" fill="#008c00"/>
<rect x="54" y="387" width="1" height="4" fill="#ff0000"/>
<rect x="54" y="388" width="2" height="3" fill="#ff0000"/>
<rect x="56" y="390" width="1" height="2" fill="#008c00"/>
<rect x="56" y="391" width="2" height="1" fill="#008c00"/>
<rect x="57" y="388" width="1" height="3" fill="#008c00"/>
<rect x="57" y="388" width="2" height="2" fill="#008c00"/>
<rect x="58" y="387" width="1" height="1" fill="#008c00"/>
<rect x="59" y="384" width="1" height="4" fill="#008c00"/>
<rect x="59" y="385" width="2" height="2" fill="#008c00"/>
<rect x="61" y="384" width="1" height="2" fill="#ff0000"/>
<rect x="61" y="385" width="2" height="1" fill="#ff0000"/>
<rect x="62" y="386" width="1" height="1" fill="#ff0000"/>
<rect x="63" y="386" width="1" height="1" fill="#008c00"/>
<rect x="65" y="386" width="1" height="2" fill="#008c00"/>
<rect x="67" y="387" width="1" height="1" fill="#ff0000"/>
<rect x="68" y="387" width="1" height="3" fill="#ff0000"/>
<rect x="69" y="389" width="1" height="1" fill="#ff0000"/>
<rect x="70" y="387" width="1" height="4" fill="#008c00"/>
<rect x="72" y="389" width="1" height="3" fill="#ff0000"/>
<rect x="72" y="389" width="2" height="2" fill="#ff0000"/>
<rect x="73" y="390" width="1" height="1" fill="#008c00"/>
<rect x="74" y="390" width="1" height="4" fill="#ff0000"/>
<rect x="74" y="390" width="2" height="4" fill="#ff0000"/>
<rect x="75" y="392" width="1" height="2" fill="#008c00"/>
<rect x="75" y="393" width="2" height="1" fill="#008c00"/>
<rect x="77" y="391" width="1" height="3" fill="#008c00"/>
<rect x="78" y="391" width="1" height="2" fill="#008c00"/>
<rect x="78" y="391" width="2" height="1" fill="#008c00"/>
<rect x="79" y="389" width="1" height="4" fill="#ff0000"/>
<rect x="79" y="391" width="2" height="2" fill="#ff0000"/>
<rect x="80" y="391" width="1" height="2" fill="#008c00"/>
<rect x="81" y="390" width="1" height="2" fill="#008c00"/>
<rect x="83" y="391" width="1" height="2" fill="#008c00"/>
<rect x="84" y="391" width="1" height="3" fill="#008c00"/>
<rect x="85" y="391" width="1" height="5" fill="#ff0000"/>
<rect x="85" y="391" width="2" height="3" fill="#ff0000"/>
<rect x="86" y="393" width="1" height="2" fill="#ff0000"/>
<rect x="88" y="393" width="1" height="3" fill="#ff0000"/>
<rect x="88" y="394" width="2" height="1" fill="#ff0000"/>
<rect x="89" y="393" width="1" height="2" fill="#008c00"/>
<rect x="89" y="393" width="2" height="1" fill="#008c00"/>
<rect x="90" y="392" width="1" height="2" fill="#ff0000"/>
<rect x="90" y="393" width="2" height="1" fill="#ff0000"/>
<rect x="91" y="393" width="1" height="2" fill="#008c00"/>
<rect x="93" y="392" width="1" height="2" fill="#ff0000"/>
<rect x="93" y="393" width="2" height="1" fill="#ff0000"/>
<rect x="94" y="391" width="1" height="4" fill="#008c00"/>
<rect x="94" y="392" width="2" height="3" fill="#008c00"/>
<rect x="95" y="391" width="1" height="5" fill="#ff0000"/>
<rect x="95" y="392" width="2" height="4" fill="#ff0000"/>
<rect x="96" y="393" width="1" height="2" fill="#ff0000"/>
<rect x="97" y="394" width="1" height="2" fill="#008c00"/>
<rect x="97" y="395" width="2" height="1" fill="#008c00"/>
<rect x="99" y="393" width="1" height="3" fill="#008c00"/>
<rect x="100" y="394" width="1" height="2" fill="#ff0000"/>
<rect x="101" y="394" width="1" height="2" fill="#ff0000"/>
<rect x="101" y="395" width="2" height="1" fill="#ff0000"/>
<rect x="102" y="394" width="1" height="3" fill="#008c00"/>
<rect x="102" y="395" width="2" height="1" fill="#008c00"/>
<rect x="104" y="394" width="1" height="3" fill="#ff0000"/>
<rect x="105" y="393" width="1" height="3" fill="#ff0000"/>
<rect x="105" y="395" width="2" height="1" fill="#ff0000"/>
<rect x="106" y="395" width="1" height="4" fill="#ff0000"/>
<rect x="106" y="395" width="2" height="4" fill="#ff0000"/>
<rect x="107" y="396" width="1" height="5" fill="#008c00"/>
<rect x="107" y="398" width="2" height="1" fill="#008c00"/>
<rect x="109" y="396" width="1" height="3" fill="#008c00"/>
<rect x="109" y="396" width="2" height="1" fill="#008c00"/>
<rect x="110" y="396" width="1" height="1" fill="#008c00"/>
<rect x="111" y="395" width="1" height="2" fill="#008c00"/>
<rect x="111" y="395" width="2" height="1" fill="#008c00"/>
<rect x="112" y="394" width="1" height="2" fill="#ff0000"/>
<rect x="113" y="394" width="1" height="2" fill="#ff0000"/>
<rect x="115" y="393" width="1" height="3" fill="#008c00"/>
<rect x="115" y="394" width="2" height="1" fill="#008c00"/>
<rect x="116" y="394" width="1" height="3" fill="#ff0000"/>
<rect x="116" y="394" width="2" height="2" fill="#ff0000"/>
<rect x="117" y="392" width="1" height="4" fill="#008c00"/>
<rect x="117" y="393" width="2" height="3" fill="#008c00"/>
<rect x="118" y="394" width="1" height="1" fill="#ff0000"/>
<rect x="120" y="394" width="1" height="1" fill="#008c00"/>
<rect x="121" y="393" width="1" height="3" fill="#ff0000"/>
<rect x="121" y="394" width="2" height="1" fill="#ff0000"/>
<rect x="122" y="394" width="1" height="2" fill="#ff0000"/>
<rect x="122" y="395" width="2" height="2" fill="#ff0000"/>
<rect x="123" y="394" width="1" height="3" fill="#008c00"/>
<rect x="123" y="395" width="2" height="1" fill="#008c00"/>
<rect x="125" y="393" width="1" height="3" fill="#008c00"/>
<rect x="125" y="394" width="2" height="1" fill="#008c00"/>
<rect x="126" y="393" width="1" height="3" fill="#ff0000"/>
<rect x="126" y="395" width="2" height="1" fill="#ff0000"/>
<rect x="127" y="395" width="1" height="1" fill="#008c00"/>
<rect x="128" y="395" width="1" height="2" fill="#ff0000"/>
<rect x="129" y="396" width="1" height="1" fill="#008c00"/>
<rect x="131" y="395" width="1" height="2" fill="#008c00"/>
<rect x="132" y="395" width="1" height="2" fill="#ff0000"/>
<rect x="132" y="395" width="2" height="1" fill="#ff0000"/>
<rect x="133" y="395" width="1" height="2" fill="#008c00"/>
<rect x="133" y="395" width="2" height="1" fill="#008c00"/>
<rect x="134" y="395" width="1" height="1" fill="#ff0000"/>
<rect x="136" y="395" width="1" height="2" fill="#ff0000"/>
<rect x="136" y="395" width="2" height="1" fill="#ff0000"/>
<rect x="137" y="393" width="1" height="5" fill="#008c00"/>
<rect x="137" y="394" width="2" height="3" fill="#008c00"/>
<rect x="138" y="394" width="1" height="1" fill="#ff0000"/>
<rect x="139" y="394" width="1" height="1" fill="#008c00"/>
<rect x="141" y="394" width="1" height="2" fill="#ff0000"/>
<rect x="142" y="394" width="1" height="2" fill="#ff0000"/>
<rect x="143" y="393" width="1" height="4" fill="#008c00"/>
<rect x="143" y="394" width="2" height="2" fill="#008c00"/>
<rect x="144" y="391" width="1" height="4" fill="#008c00"/>
<rect x="144" y="392" width="2" height="2" fill="#008c00"/>
<rect x="145" y="393" width="1" height="1" fill="#ff0000"/>
<rect x="147" y="394" width="1" height="1" fill="#ff0000"/>
<rect x="147" y="394" width="2" height="1" fill="#ff0000"/>
<rect x="148" y="392" width="1" height="4" fill="#008c00"/>
<rect x="148" y="393" width="2" height="2" fill="#008c00"/>
<rect x="149" y="393" width="1" height="2" fill="#ff0000"/>
<rect x="150" y="393" width="1" height="4" fill="#ff0000"/>
<rect x="150" y="394" width="2" height="1" fill="#ff0000"/>
<rect x="153" y="395" width="1" height="3" fill="#ff0000"/>
<rect x="153" y="395" width="2" height="2" fill="#ff0000"/>
<rect x="154" y="393" width="1" height="4" fill="#008c00"/>
<rect x="154" y="394" width="2" height="3" fill="#008c00"/>
<rect x="155" y="393" width="1" height="4" fill="#ff0000"/>
<rect x="155" y="394" width="2" height="2" fill="#ff0000"/>
<rect x="157" y="396" width="1" height="1" fill="#ff0000"/>
<rect x="157" y="396" width="2" height="1" fill="#ff0000"/>
<rect x="158" y="397" width="1" height="1" fill="#008c00"/>
<rect x="159" y="394" width="1" height="4" fill="#ff0000"/>
<rect x="160" y="397" width="1" height="2" fill="#ff0000"/>
<rect x="161" y="398" width="1" height="3" fill="#ff0000"/>
<rect x="161" y="399" width="2" height="1" fill="#ff0000"/>
<rect x="163" y="399" width="1" height="3" fill="#ff0000"/>
<rect x="163" y="399" width="2" height="2" fill="#ff0000"/>
<rect x="164" y="400" width="1" height="2" fill="#ff0000"/>
<rect x="164" y="401" width="2" height="1" fill="#ff0000"/>
<rect x="165" y="399" width="1" height="6" fill="#008c00"/>
<rect x="165" y="400" width="2" height="3" fill="#008c00"/>
<rect x="166" y="399" width="1" height="2" fill="#008c00"/>
<rect x="168" y="398" width="1" height="4" fill="#ff0000"/>
<rect x="168" y="400" width="2" height="1" fill="#ff0000"/>
<rect x="169" y="400" width="1" height="2" fill="#ff0000"/>
<rect x="169" y="401" width="2" height="1" fill="#ff0000"/>
<rect x="170" y="400" width="1" height="2" fill="#008c00"/>
<rect x="172" y="402" width="1" height="1" fill="#ff0000"/>
<rect x="174" y="402" width="1" height="3" fill="#008c00"/>
<rect x="174" y="402" width="2" height="1" fill="#008c00"/>
<rect x="175" y="402" width="1" height="5" fill="#ff0000"/>
<rect x="175" y="402" width="2" height="3" fill="#ff0000"/>
<rect x="176" y="401" width="1" height="7" fill="#008c00"/>
<rect x="176" y="402" width="2" height="3" fill="#008c00"/>
<rect x="177" y="401" width="1" height="4" fill="#ff0000"/>
<rect x="177" y="401" width="2" height="2" fill="#ff0000"/>
<rect x="179" y="403" width="1" height="1" fill="#ff0000"/>
<rect x="180" y="404" width="1" height="1" fill="#008c00"/>
<rect x="181" y="403" width="1" height="1" fill="#ff0000"/>
<rect x="181" y="403" width="2" height="1" fill="#ff0000"/>
<rect x="182" y="403" width="1" height="5" fill="#ff0000"/>
<rect x="184" y="403" width="1" height="3" fill="#008c00"/>
<rect x="184" y="404" width="2" height="1" fill="#008c00"/>
<rect x="185" y="402" width="1" height="3" fill="#008c00"/>
<rect x="186" y="403" width="1" height="1" fill="#ff0000"/>
<rect x="187" y="401" width="1" height="3" fill="#008c00"/>
<rect x="188" y="402" width="1" height="3" fill="#ff0000"/>
<rect x="190" y="402" width="1" height="5" fill="#008c00"/>
<rect x="190" y="402" width="2" height="2" fill="#008c00"/>
<rect x="191" y="399" width="1" height="3" fill="#008c00"/>
<rect x="191" y="399" width="2" height="3" fill="#008c00"/>
<rect x="192" y="396" width="1" height="6" fill="#ff0000"/>
<rect x="192" y="399" width="2" height="3" fill="#ff0000"/>
<rect x="193" y="399" width="1" height="5" fill="#ff0000"/>
<rect x="193" y="401" width="2" height="2" fill="#ff0000"/>
<rect x="195" y="402" width="1" height="2" fill="#008c00"/>
<rect x="195" y="402" width="2" height="1" fill="#008c00"/>
<rect x="196" y="401" width="1" height="2" fill="#008c00"/>
<rect x="196" y="401" width="2" height="1" fill="#008c00"/>
<rect x="197" y="399" width="1" height="3" fill="#008c00"/>
<rect x="198" y="400" width="1" height="3" fill="#ff0000"/>
<rect x="198" y="401" width="2" height="2" fill="#ff0000"/>
<rect x="200" y="402" width="1" height="1" fill="#ff0000"/>
<rect x="201" y="403" width="1" height="1" fill="#ff0000"/>
<rect x="202" y="403" width="1" height="2" fill="#008c00"/>
<rect x="203" y="401" width="1" height="2" fill="#008c00"/>
<rect x="203" y="401" width="2" height="2" fill="#008c00"/>
<rect x="204" y="400" width="1" height="2" fill="#008c00"/>
<rect x="204" y="400" width="2" height="1" fill="#008c00"/>
<rect x="206" y="400" width="1" height="1" fill="#ff0000"/>
<rect x="207" y="397" width="1" height="5" fill="#008c00"/>
<rect x="207" y="399" width="2" height="2" fill="#008c00"/>
<rect x="208" y="398" width="1" height="4" fill="#ff0000"/>
<rect x="208" y="398" width="2" height="2" fill="#ff0000"/>
<rect x="209" y="397" width="1" height="4" fill="#008c00"/>
<rect x="209" y="398" width="2" height="2" fill="#008c00"/>
<rect x="211" y="398" width="1" height="1" fill="#ff0000"/>
<rect x="212" y="397" width="1" height="4" fill="#ff0000"/>
<rect x="212" y="399" width="2" height="2" fill="#ff0000"/>
<rect x="213" y="399" width="1" height="2" fill="#ff0000"/>
<rect x="214" y="400" width="1" height="2" fill="#ff0000"/>
<rect x="216" y="400" width="1" height="6" fill="#ff0000"/>
<rect x="216" y="401" width="2" height="3" fill="#ff0000"/>
<rect x="217" y="403" width="1" height="2" fill="#008c00"/>
<rect x="218" y="402" width="1" height="2" fill="#ff0000"/>
<rect x="219" y="403" width="1" height="1" fill="#008c00"/>
<rect x="220" y="400" width="1" height="3" fill="#008c00"/>
<rect x="220" y="402" width="2" height="1" fill="#008c00"/>
<rect x="222" y="401" width="1" height="2" fill="#008c00"/>
<rect x="223" y="401" width="1" height="1" fill="#ff0000"/>
<rect x="224" y="400" width="1" height="4" fill="#008c00"/>
<rect x="225" y="402" width="1" height="2" fill="#ff0000"/>
<rect x="227" y="402" width="1" height="4" fill="#ff0000"/>
<rect x="227" y="403" width="2" height="1" fill="#ff0000"/>
<rect x="228" y="402" width="1" height="2" fill="#008c00"/>
<rect x="229" y="403" width="1" height="2" fill="#ff0000"/>
<rect x="230" y="403" width="1" height="1" fill="#008c00"/>
<rect x="232" y="400" width="1" height="4" fill="#008c00"/>
<rect x="232" y="400" width="2" height="3" fill="#008c00"/>
<rect x="233" y="397" width="1" height="4" fill="#008c00"/>
<rect x="233" y="398" width="2" height="2" fill="#008c00"/>
<rect x="234" y="397" width="1" height="5" fill="#ff0000"/>
<rect x="234" y="398" width="2" height="1" fill="#ff0000"/>
<rect x="235" y="396" width="1" height="6" fill="#008c00"/>
<rect x="235" y="397" width="2" height="3" fill="#008c00"/>
<rect x="240" y="392" width="1" height="2" fill="#008c00"/>
<rect x="240" y="392" width="2" height="2" fill="#008c00"/>
<rect x="246" y="390" width="1" height="2" fill="#008c00"/>
<rect x="246" y="390" width="2" height="2" fill="#008c00"/>
<rect x="250" y="388" width="1" height="4" fill="#008c00"/>
<rect x="250" y="389" width="2" height="2" fill="#008c00"/>
<rect x="252" y="388" width="1" height="2" fill="#008c00"/>
<rect x="252" y="388" width="2" height="2" fill="#008c00"/>
<rect x="256" y="387" width="1" height="3" fill="#008c00"/>
<rect x="256" y="388" width="2" height="1" fill="#008c00"/>
<rect x="261" y="386" width="1" height="4" fill="#008c00"/>
<rect x="261" y="387" width="2" height="2" fill="#008c00"/>
<rect x="266" y="385" width="1" height="3" fill="#008c00"/>
<rect x="266" y="386" width="2" height="1" fill="#008c00"/>
<rect x="271" y="386" width="1" height="2" fill="#ff0000"/>
<rect x="270" y="386" width="2" height="2" fill="#ff0000"/>
<rect x="277" y="384" width="1" height="2" fill="#008c00"/>
<rect x="277" y="384" width="2" height="2" fill="#008c00"/>
<rect x="280" y="384" width="1" height="2" fill="#008c00"/>
<rect x="280" y="384" width="2" height="2" fill="#008c00"/>
<rect x="287" y="381" width="1" height="3" fill="#008c00"/>
<rect x="287" y="382" width="2" height="1" fill="#008c00"/>
<rect x="290" y="377" width="1" height="4" fill="#008c00"/>
<rect x="290" y="378" width="2" height="2" fill="#008c00"/>
<rect x="291" y="381" width="1" height="2" fill="#ff0000"/>
<rect x="290" y="381" width="2" height="2" fill="#ff0000"/>
<rect x="297" y="382" width="1" height="11" fill="#008c00"/>
<rect x="297" y="384" width="2" height="7" fill="#008c00"/>
<rect x="300" y="379" width="1" height="5" fill="#008c00"/>
<rect x="300" y="380" width="2" height="3" fill="#008c00"/>
<rect x="301" y="376" width="1" height="7" fill="#008c00"/>
<rect x="301" y="377" width="2" height="5" fill="#008c00"/>
<rect x="302" y="368" width="1" height="4" fill="#008c00"/>
<rect x="302" y="369" width="2" height="2" fill="#008c00"/>
<rect x="305" y="367" width="1" height="4" fill="#ff0000"/>
<rect x="304" y="368" width="2" height="2" fill="#ff0000"/>
<rect x="307" y="369" width="1" height="8" fill="#ff0000"/>
<rect x="306" y="371" width="2" height="4" fill="#ff0000"/>
<rect x="308" y="371" width="1" height="3" fill="#008c00"/>
<rect x="308" y="372" width="2" height="1" fill="#008c00"/>
<rect x="311" y="366" width="1" height="7" fill="#008c00"/>
<rect x="311" y="367" width="2" height="5" fill="#008c00"/>
<rect x="312" y="365" width="1" height="8" fill="#008c00"/>
<rect x="312" y="367" width="2" height="4" fill="#008c00"/>
<rect x="315" y="359" width="1" height="5" fill="#008c00"/>
<rect x="315" y="360" width="2" height="3" fill="#008c00"/>
<rect x="316" y="357" width="1" height="5" fill="#008c00"/>
<rect x="316" y="358" width="2" height="3" fill="#008c00"/>
<rect x="318" y="356" width="1" height="4" fill="#008c00"/>
<rect x="318" y="357" width="2" height="2" fill="#008c00"/>
<rect x="322" y="355" width="1" height="4" fill="#008c00"/>
<rect x="322" y="356" width="2" height="2" fill="#008c00"/>
<rect x="323" y="357" width="1" height="3" fill="#ff0000"/>
<rect x="322" y="358" width="2" height="1" fill="#ff0000"/>
<rect x="326" y="351" width="1" height="5" fill="#008c00"/>
<rect x="326" y="352" width="2" height="3" fill="#008c00"/>
<rect x="328" y="344" width="1" height="6" fill="#008c00"/>
<rect x="328" y="345" width="2" height="4" fill="#008c00"/>
<rect x="328" y="340" width="1" height="4" fill="#ff0000"/>
<rect x="327" y="341" width="2" height="2" fill="#ff0000"/>
<rect x="331" y="332" width="1" height="10" fill="#008c00"/>
<rect x="331" y="334" width="2" height="6" fill="#008c00"/>
<rect x="332" y="328" width="1" height="6" fill="#008c00"/>
<rect x="332" y="329" width="2" height="4" fill="#008c00"/>
<rect x="335" y="324" width="1" height="6" fill="#008c00"/>
<rect x="335" y="325" width="2" height="4" fill="#008c00"/>
<rect x="336" y="320" width="1" height="9" fill="#008c00"/>
<rect x="336" y="322" width="2" height="5" fill="#008c00"/>
<rect x="338" y="325" width="1" height="6" fill="#008c00"/>
<rect x="338" y="326" width="2" height="4" fill="#008c00"/>
<rect x="341" y="323" width="1" height="5" fill="#008c00"/>
<rect x="341" y="324" width="2" height="3" fill="#008c00"/>
<rect x="342" y="322" width="1" height="7" fill="#008c00"/>
<rect x="342" y="323" width="2" height="5" fill="#008c00"/>
<rect x="343" y="323" width="1" height="9" fill="#ff0000"/>
<rect x="342" y="325" width="2" height="5" fill="#ff0000"/>
<rect x="346" y="328" width="1" height="4" fill="#008c00"/>
<rect x="346" y="329" width="2" height="2" fill="#008c00"/>
<rect x="348" y="330" width="1" height="9" fill="#ff0000"/>
<rect x="347" y="332" width="2" height="5" fill="#ff0000"/>
<rect x="351" y="331" width="1" height="5" fill="#008c00"/>
<rect x="351" y="332" width="2" height="3" fill="#008c00"/>
<rect x="357" y="328" width="1" height="1" fill="#008c00"/>
<rect x="357" y="328" width="2" height="1" fill="#008c00"/>
<rect x="358" y="319" width="1" height="6" fill="#008c00"/>
<rect x="358" y="320" width="2" height="4" fill="#008c00"/>
<rect x="361" y="321" width="1" height="3" fill="#008c00"/>
<rect x="361" y="322" width="2" height="1" fill="#008c00"/>
<rect x="363" y="322" width="1" height="2" fill="#ff0000"/>
<rect x="362" y="322" width="2" height="2" fill="#ff0000"/>
<rect x="365" y="318" width="1" height="5" fill="#008c00"/>
<rect x="365" y="319" width="2" height="3" fill="#008c00"/>
<rect x="366" y="317" width="1" height="6" fill="#008c00"/>
<rect x="366" y="318" width="2" height="4" fill="#008c00"/>
<rect x="368" y="308" width="1" height="10" fill="#008c00"/>
<rect x="368" y="310" width="2" height="6" fill="#008c00"/>
<rect x="369" y="310" width="1" height="4" fill="#ff0000"/>
<rect x="368" y="311" width="2" height="2" fill="#ff0000"/>
<rect x="371" y="310" width="1" height="7" fill="#008c00"/>
<rect x="371" y="311" width="2" height="5" fill="#008c00"/>
<rect x="372" y="308" width="1" height="6" fill="#008c00"/>
<rect x="372" y="309" width="2" height="4" fill="#008c00"/>
<rect x="377" y="305" width="1" height="8" fill="#008c00"/>
<rect x="377" y="307" width="2" height="4" fill="#008c00"/>
<rect x="378" y="298" width="1" height="8" fill="#008c00"/>
<rect x="378" y="300" width="2" height="4" fill="#008c00"/>
<rect x="381" y="292" width="1" height="10" fill="#008c00"/>
<rect x="381" y="294" width="2" height="6" fill="#008c00"/>
<rect x="382" y="282" width="1" height="13" fill="#008c00"/>
<rect x="382" y="285" width="2" height="7" fill="#008c00"/>
<rect x="384" y="270" width="1" height="9" fill="#008c00"/>
<rect x="384" y="272" width="2" height="5" fill="#008c00"/>
<rect x="384" y="270" width="1" height="5" fill="#008c00"/>
<rect x="384" y="271" width="2" height="3" fill="#008c00"/>
<rect x="386" y="270" width="1" height="7" fill="#008c00"/>
<rect x="386" y="271" width="2" height="5" fill="#008c00"/>
<rect x="386" y="256" width="1" height="16" fill="#008c00"/>
<rect x="386" y="259" width="2" height="10" fill="#008c00"/>
<rect x="387" y="256" width="1" height="16" fill="#ff0000"/>
<rect x="386" y="259" width="2" height="10" fill="#ff0000"/>
<rect x="388" y="224" width="1" height="26" fill="#ff0000"/>
<rect x="387" y="229" width="2" height="16" fill="#ff0000"/>
<rect x="388" y="224" width="1" height="19" fill="#ff0000"/>
<rect x="387" y="228" width="2" height="11" fill="#ff0000"/>
<rect x="390" y="242" width="1" height="6" fill="#008c00"/>
<rect x="390" y="243" width="2" height="4" fill="#008c00"/>
<rect x="391" y="242" width="1" height="13" fill="#008c00"/>
<rect x="391" y="245" width="2" height="7" fill="#008c00"/>
<rect x="392" y="230" width="1" height="13" fill="#ff0000"/>
<rect x="391" y="233" width="2" height="7" fill="#ff0000"/>
<rect x="393" y="238" width="1" height="16" fill="#008c00"/>
<rect x="393" y="241" width="2" height="10" fill="#008c00"/>
<rect x="396" y="227" width="1" height="17" fill="#008c00"/>
<rect x="396" y="230" width="2" height="11" fill="#008c00"/>
<rect x="398" y="228" width="1" height="12" fill="#008c00"/>
<rect x="398" y="230" width="2" height="8" fill="#008c00"/>
<rect x="398" y="237" width="1" height="3" fill="#ff0000"/>
<rect x="397" y="238" width="2" height="1" fill="#ff0000"/>
<rect x="401" y="222" width="1" height="11" fill="#ff0000"/>
<rect x="400" y="224" width="2" height="7" fill="#ff0000"/>
<rect x="402" y="227" width="1" height="16" fill="#ff0000"/>
<rect x="401" y="230" width="2" height="10" fill="#ff0000"/>
<rect x="403" y="238" width="1" height="10" fill="#008c00"/>
<rect x="403" y="240" width="2" height="6" fill="#008c00"/>
<rect x="406" y="236" width="1" height="7" fill="#008c00"/>
<rect x="406" y="237" width="2" height="5" fill="#008c00"/>
<rect x="407" y="236" width="1" height="10" fill="#ff0000"/>
<rect x="406" y="238" width="2" height="6" fill="#ff0000"/>
<rect x="409" y="244" width="1" height="6" fill="#008c00"/>
<rect x="409" y="245" width="2" height="4" fill="#008c00"/>
<rect x="413" y="249" width="1" height="11" fill="#008c00"/>
<rect x="413" y="251" width="2" height="7" fill="#008c00"/>
<rect x="414" y="243" width="1" height="6" fill="#008c00"/>
<rect x="414" y="244" width="2" height="4" fill="#008c00"/>
<rect x="417" y="247" width="1" height="5" fill="#008c00"/>
<rect x="417" y="248" width="2" height="3" fill="#008c00"/>
<rect x="418" y="243" width="1" height="10" fill="#ff0000"/>
<rect x="417" y="245" width="2" height="6" fill="#ff0000"/>
<rect x="419" y="244" width="1" height="8" fill="#008c00"/>
<rect x="419" y="246" width="2" height="4" fill="#008c00"/>
<rect x="422" y="251" width="1" height="17" fill="#ff0000"/>
<rect x="421" y="254" width="2" height="11" fill="#ff0000"/>
<rect x="424" y="256" width="1" height="13" fill="#008c00"/>
<rect x="424" y="259" width="2" height="7" fill="#008c00"/>
<rect x="427" y="253" width="1" height="8" fill="#008c00"/>
<rect x="427" y="255" width="2" height="4" fill="#008c00"/>
<rect x="428" y="246" width="1" height="5" fill="#008c00"/>
<rect x="428" y="247" width="2" height="3" fill="#008c00"/>
<rect x="429" y="242" width="1" height="7" fill="#008c00"/>
<rect x="429" y="243" width="2" height="5" fill="#008c00"/>
<rect x="432" y="248" width="1" height="3" fill="#008c00"/>
<rect x="432" y="249" width="2" height="1" fill="#008c00"/>
<rect x="433" y="246" width="1" height="4" fill="#008c00"/>
<rect x="433" y="247" width="2" height="2" fill="#008c00"/>
<rect x="434" y="239" width="1" height="13" fill="#008c00"/>
<rect x="434" y="242" width="2" height="7" fill="#008c00"/>
<rect x="437" y="248" width="1" height="4" fill="#ff0000"/>
<rect x="436" y="249" width="2" height="2" fill="#ff0000"/>
<rect x="439" y="252" width="1" height="11" fill="#ff0000"/>
<rect x="438" y="254" width="2" height="7" fill="#ff0000"/>
<rect x="440" y="249" width="1" height="5" fill="#008c00"/>
<rect x="440" y="250" width="2" height="3" fill="#008c00"/>
<rect x="442" y="244" width="1" height="8" fill="#008c00"/>
<rect x="442" y="246" width="2" height="4" fill="#008c00"/>
<rect x="443" y="242" width="1" height="9" fill="#008c00"/>
<rect x="443" y="244" width="2" height="5" fill="#008c00"/>
<rect x="444" y="234" width="1" height="12" fill="#008c00"/>
<rect x="444" y="236" width="2" height="8" fill="#008c00"/>
<rect x="447" y="246" width="1" height="3" fill="#008c00"/>
<rect x="447" y="247" width="2" height="1" fill="#008c00"/>
<rect x="448" y="243" width="1" height="12" fill="#008c00"/>
<rect x="448" y="245" width="2" height="8" fill="#008c00"/>
<rect x="453" y="231" width="1" height="14" fill="#008c00"/>
<rect x="453" y="234" width="2" height="8" fill="#008c00"/>
<rect x="455" y="229" width="1" height="12" fill="#008c00"/>
<rect x="455" y="231" width="2" height="8" fill="#008c00"/>
<rect x="457" y="214" width="1" height="19" fill="#008c00"/>
<rect x="457" y="218" width="2" height="11" fill="#008c00"/>
<rect x="458" y="202" width="1" height="16" fill="#008c00"/>
<rect x="458" y="205" width="2" height="10" fill="#008c00"/>
<rect x="459" y="202" width="1" height="34" fill="#ff0000"/>
<rect x="458" y="209" width="2" height="20" fill="#ff0000"/>
<rect x="463" y="239" width="1" height="18" fill="#ff0000"/>
<rect x="462" y="243" width="2" height="10" fill="#ff0000"/>
<rect x="464" y="247" width="1" height="27" fill="#ff0000"/>
<rect x="463" y="252" width="2" height="17" fill="#ff0000"/>
<rect x="467" y="261" width="1" height="23" fill="#008c00"/>
<rect x="467" y="266" width="2" height="13" fill="#008c00"/>
<rect x="468" y="263" width="1" height="13" fill="#ff0000"/>
<rect x="467" y="266" width="2" height="7" fill="#ff0000"/>
<rect x="470" y="280" width="1" height="18" fill="#008c00"/>
<rect x="470" y="284" width="2" height="10" fill="#008c00"/>
<rect x="472" y="279" width="1" height="18" fill="#ff0000"/>
<rect x="471" y="283" width="2" height="10" fill="#ff0000"/>
<rect x="473" y="279" width="1" height="18" fill="#008c00"/>
<rect x="473" y="283" width="2" height="10" fill="#008c00"/>
<rect x="477" y="287" width="1" height="7" fill="#ff0000"/>
<rect x="476" y="288" width="2" height="5" fill="#ff0000"/>
<rect x="479" y="284" width="1" height="25" fill="#008c00"/>
<rect x="479" y="289" width="2" height="15" fill="#008c00"/>
<rect x="482" y="287" width="1" height="9" fill="#008c00"/>
<rect x="482" y="289" width="2" height="5" fill="#008c00"/>
<rect x="483" y="285" width="1" height="8" fill="#008c00"/>
<rect x="483" y="287" width="2" height="4" fill="#008c00"/>
<rect x="487" y="284" width="1" height="3" fill="#ff0000"/>
<rect x="486" y="285" width="2" height="1" fill="#ff0000"/>
<rect x="489" y="289" width="1" height="8" fill="#008c00"/>
<rect x="489" y="291" width="2" height="4" fill="#008c00"/>
<rect x="490" y="290" width="1" height="3" fill="#ff0000"/>
<rect x="489" y="291" width="2" height="1" fill="#ff0000"/>
<rect x="492" y="290" width="1" height="10" fill="#008c00"/>
<rect x="492" y="292" width="2" height="6" fill="#008c00"/>
<rect x="493" y="274" width="1" height="13" fill="#008c00"/>
<rect x="493" y="277" width="2" height="7" fill="#008c00"/>
<rect x="494" y="276" width="1" height="10" fill="#008c00"/>
<rect x="494" y="278" width="2" height="6" fill="#008c00"/>
<rect x="496" y="274" width="1" height="8" fill="#ff0000"/>
<rect x="495" y="276" width="2" height="4" fill="#ff0000"/>
<rect x="499" y="277" width="1" height="8" fill="#008c00"/>
<rect x="499" y="279" width="2" height="4" fill="#008c00"/>
<rect x="500" y="279" width="1" height="8" fill="#008c00"/>
<rect x="500" y="281" width="2" height="4" fill="#008c00"/>
<rect x="503" y="282" width="1" height="7" fill="#ff0000"/>
<rect x="502" y="283" width="2" height="5" fill="#ff0000"/>
<rect x="504" y="287" width="1" height="20" fill="#ff0000"/>
<rect x="503" y="291" width="2" height="12" fill="#ff0000"/>
<rect x="507" y="300" width="1" height="3" fill="#008c00"/>
<rect x="507" y="301" width="2" height="1" fill="#008c00"/>
<rect x="508" y="301" width="1" height="4" fill="#008c00"/>
<rect x="508" y="302" width="2" height="2" fill="#008c00"/>
<rect x="510" y="305" width="1" height="19" fill="#008c00"/>
<rect x="510" y="309" width="2" height="11" fill="#008c00"/>
<rect x="513" y="299" width="1" height="5" fill="#008c00"/>
<rect x="513" y="300" width="2" height="3" fill="#008c00"/>
<rect x="515" y="290" width="1" height="11" fill="#008c00"/>
<rect x="515" y="292" width="2" height="7" fill="#008c00"/>
<rect x="518" y="290" width="1" height="7" fill="#ff0000"/>
<rect x="517" y="291" width="2" height="5" fill="#ff0000"/>
<rect x="520" y="289" width="1" height="16" fill="#ff0000"/>
<rect x="519" y="292" width="2" height="10" fill="#ff0000"/>
<rect x="523" y="290" width="1" height="6" fill="#008c00"/>
<rect x="523" y="291" width="2" height="4" fill="#008c00"/>
<rect x="524" y="292" width="1" height="13" fill="#ff0000"/>
<rect x="523" y="295" width="2" height="7" fill="#ff0000"/>
<rect x="528" y="301" width="1" height="4" fill="#008c00"/>
<rect x="528" y="302" width="2" height="2" fill="#008c00"/>
<rect x="530" y="298" width="1" height="13" fill="#ff0000"/>
<rect x="529" y="301" width="2" height="7" fill="#ff0000"/>
<rect x="533" y="301" width="1" height="15" fill="#008c00"/>
<rect x="533" y="304" width="2" height="9" fill="#008c00"/>
<rect x="535" y="301" width="1" height="5" fill="#008c00"/>
<rect x="535" y="302" width="2" height="3" fill="#008c00"/>
<rect x="539" y="301" width="1" height="4" fill="#008c00"/>
<rect x="539" y="302" width="2" height="2" fill="#008c00"/>
<rect x="540" y="301" width="1" height="11" fill="#ff0000"/>
<rect x="539" y="303" width="2" height="7" fill="#ff0000"/>
<rect x="543" y="308" width="1" height="2" fill="#008c00"/>
<rect x="543" y="308" width="2" height="2" fill="#008c00"/>
<rect x="544" y="315" width="1" height="7" fill="#ff0000"/>
<rect x="543" y="316" width="2" height="5" fill="#ff0000"/>
<rect x="545" y="308" width="1" height="16" fill="#ff0000"/>
<rect x="544" y="311" width="2" height="10" fill="#ff0000"/>
<rect x="549" y="320" width="1" height="7" fill="#ff0000"/>
<rect x="548" y="321" width="2" height="5" fill="#ff0000"/>
<rect x="550" y="320" width="1" height="8" fill="#008c00"/>
<rect x="550" y="322" width="2" height="4" fill="#008c00"/>
<rect x="553" y="319" width="1" height="11" fill="#008c00"/>
<rect x="553" y="321" width="2" height="7" fill="#008c00"/>
<rect x="554" y="317" width="1" height="15" fill="#ff0000"/>
<rect x="553" y="320" width="2" height="9" fill="#ff0000"/>
<rect x="558" y="331" width="1" height="7" fill="#ff0000"/>
<rect x="557" y="332" width="2" height="5" fill="#ff0000"/>
<rect x="559" y="326" width="1" height="13" fill="#008c00"/>
<rect x="559" y="329" width="2" height="7" fill="#008c00"/>
<rect x="561" y="325" width="1" height="9" fill="#008c00"/>
<rect x="561" y="327" width="2" height="5" fill="#008c00"/>
<rect x="563" y="310" width="1" height="20" fill="#008c00"/>
<rect x="563" y="314" width="2" height="12" fill="#008c00"/>
<rect x="564" y="306" width="1" height="14" fill="#008c00"/>
<rect x="564" y="309" width="2" height="8" fill="#008c00"/>
<rect x="565" y="306" width="1" height="10" fill="#008c00"/>
<rect x="565" y="308" width="2" height="6" fill="#008c00"/>
<rect x="568" y="310" width="1" height="4" fill="#008c00"/>
<rect x="568" y="311" width="2" height="2" fill="#008c00"/>
<rect x="569" y="306" width="1" height="7" fill="#ff0000"/>
<rect x="568" y="307" width="2" height="5" fill="#ff0000"/>
<rect x="571" y="307" width="1" height="10" fill="#ff0000"/>
<rect x="570" y="309" width="2" height="6" fill="#ff0000"/>
<rect x="573" y="318" width="1" height="12" fill="#ff0000"/>
<rect x="572" y="320" width="2" height="8" fill="#ff0000"/>
<polyline points="11.0,388.5 19.0,388.2 25.0,387.8 33.8,388.1 39.4,388.9 48.8,389.1 58.2,388.9 63.8,386.3 74.1,386.3 81.6,386.5 89.7,388.6 98.8,390.0 107.0,391.1 111.2,391.3 122.6,392.7 140.0,393.6 155.6,394.3 161.9,395.3 168.1,395.9 176.3,397.2 183.8,398.4 191.3,399.7 200.0,400.3 206.2,400.3 210.6,401.4 215.6,401.4 221.0,403.0 226.2,404.2 236.2,404.2 248.5,401.5 256.0,399.0 266.0,395.5 276.0,393.0 285.0,391.9 292.8,389.1 300.7,387.2 308.5,384.8 316.4,381.7 322.6,378.9 325.0,378.1 330.0,375.0 342.5,365.0 355.0,351.8 366.8,340.0 372.6,334.7 382.0,327.0 388.0,317.6 393.8,308.2 398.5,300.0 403.5,292.9 409.4,285.9 415.3,277.6 420.5,270.6 426.8,264.8 433.2,257.8 439.6,252.7 446.0,248.9 452.3,246.4 460.1,245.6 466.0,247.0 473.8,251.9 481.7,256.8 489.5,260.7 497.4,264.6 500.0,266.8 506.2,270.9 512.4,278.1 520.6,286.3 528.8,292.5 537.1,295.2 545.3,298.3 553.5,302.8 561.8,307.9 567.9,310.0 572.5,311.0" fill="none" stroke="#000000" stroke-width="2" stroke-linejoin="round" stroke-linecap="round" shape-rendering="crispEdges" />
<polyline points="0.0,375.0 3.8,379.4 7.5,383.8 11.2,387.5 12.5,388.1 16.2,385.6 23.8,382.5 30.0,382.0 37.5,381.9 43.8,382.5 50.0,381.2 53.8,381.0 58.8,382.2 67.5,383.5 77.0,384.4 83.8,384.4 87.5,384.4 90.0,386.0 93.8,386.9 98.8,387.5 102.5,388.2 110.0,388.8 120.0,389.0 130.0,389.5 140.0,391.0 160.0,394.4 168.0,394.4 175.0,395.3 180.0,394.0 190.0,396.5 200.0,396.5 215.0,397.3 225.0,398.2 234.0,396.3 241.0,391.8 246.0,388.0 252.2,384.9 257.2,384.9 262.2,387.4 267.2,385.8 273.5,386.5 278.8,385.3 285.0,384.8 288.9,381.7 292.8,379.3 298.3,378.5 302.3,374.6 307.0,367.5 310.1,366.0 313.2,362.1 316.4,355.8 322.9,352.6 328.2,339.4 332.0,327.0 335.9,321.4 343.7,314.5 349.6,316.5 355.0,325.3 360.9,320.6 366.8,313.0 372.6,308.2 377.4,304.7 380.3,300.0 384.2,279.1 386.8,261.2 389.3,224.2 393.2,215.3 398.3,207.7 400.8,205.1 403.4,207.7 407.2,220.4 409.7,225.5 414.8,226.8 420.0,228.5 422.8,230.3 426.8,238.1 430.7,241.1 444.4,241.1 452.3,239.1 457.2,230.3 459.1,213.6 464.0,212.6 467.9,208.7 472.8,203.2 477.7,203.2 479.7,206.8 481.7,216.6 483.6,234.2 486.6,249.9 490.5,264.6 493.4,273.4 497.4,275.4 500.0,275.0 508.2,269.9 516.5,270.9 520.6,277.1 526.8,283.2 535.0,286.3 543.2,288.4 551.5,290.4 557.6,293.5 561.8,299.7 565.9,305.9 572.5,304.9" fill="none" stroke="#ff0000" stroke-width="1" stroke-linejoin="round" stroke-linecap="round" shape-rendering="crispEdges" />
<polyline points="0.0,405.2 7.5,403.8 12.5,402.1 17.5,401.9 23.8,396.9 30.0,393.1 34.7,390.0 39.4,389.3 46.9,390.5 53.5,392.4 58.2,393.3 67.6,392.8 75.0,392.5 82.6,392.2 87.0,396.5 92.5,398.1 105.0,398.1 117.5,396.9 130.0,398.1 142.5,398.3 155.6,397.9 168.2,400.2 174.4,406.5 180.7,409.6 187.0,409.9 196.3,409.9 202.6,406.5 215.1,405.7 221.4,407.3 230.8,408.8 240.0,409.0 248.5,407.4 253.5,404.2 257.2,400.5 267.2,396.8 279.8,395.5 292.2,394.2 301.0,395.5 306.0,397.4 311.0,396.1 314.1,395.8 321.1,387.0 328.2,380.8 330.0,380.0 336.3,375.0 338.8,370.0 342.5,365.0 346.3,357.5 348.8,350.0 353.5,337.1 365.3,339.0 371.2,341.0 381.0,331.2 387.8,342.0 392.7,342.0 397.0,330.0 403.0,300.0 404.7,284.7 407.1,269.4 408.8,258.8 410.6,257.6 414.1,261.2 420.0,262.4 430.7,263.6 440.5,264.6 446.4,263.6 452.3,257.7 456.2,263.2 460.1,271.0 464.0,268.7 468.0,280.5 471.3,290.0 473.8,301.3 477.5,316.3 480.0,318.8 482.5,316.3 486.3,311.3 490.0,306.3 493.8,302.5 502.6,301.3 505.0,303.8 511.3,316.3 518.8,316.3 525.0,313.8 532.9,312.1 541.2,314.1 547.4,322.4 553.5,330.6 557.6,337.8 561.8,339.9 572.5,339.9" fill="none" stroke="#ff0000" stroke-width="1" stroke-linejoin="round" stroke-linecap="round" shape-rendering="crispEdges" />
<polyline points="0.0,390.6 5.0,391.2 10.0,393.8 13.8,394.4 20.0,392.5 25.0,390.6 30.0,388.8 35.0,386.2 38.8,384.4 43.8,384.4 47.5,386.2 53.8,386.5 60.0,386.5 67.5,386.5 75.0,387.0 80.0,388.8 85.0,392.1 92.5,393.3 100.0,393.1 105.0,393.9 112.5,394.6 117.5,393.9 123.8,394.6 130.0,394.8 140.0,395.5 149.4,396.3 158.8,396.3 163.1,397.5 168.1,398.4 175.6,400.0 181.9,401.6 188.1,403.1 194.4,404.1 200.0,403.8 206.2,401.9 215.6,402.8 225.0,403.4 231.2,403.1 236.2,401.9 240.0,400.6 248.5,391.8 261.0,388.0 273.5,387.4 285.0,386.4 292.8,386.0 299.1,385.6 304.6,382.5 310.9,379.3 314.8,377.0 318.0,373.0 321.1,369.1 325.0,365.2 330.0,358.6 335.2,350.0 339.8,342.9 349.6,335.1 355.0,331.2 366.8,326.5 372.6,322.9 378.5,317.6 383.2,311.2 386.8,302.0 389.4,290.6 391.8,283.5 395.3,275.3 397.6,268.2 400.0,260.0 402.4,254.1 404.7,248.8 407.1,244.7 409.4,241.8 415.3,242.4 420.5,245.0 423.5,251.0 434.0,252.5 446.0,251.5 452.3,248.5 458.1,243.0 463.0,240.5 467.0,243.0 471.9,248.9 475.8,253.8 479.7,263.6 482.6,273.4 485.6,281.3 489.5,287.2 493.4,288.2 500.0,288.0 508.2,288.4 514.4,290.4 520.6,292.5 528.8,295.6 537.1,297.6 541.2,299.5 547.4,304.5 553.5,312.0 557.6,316.5 561.8,321.0 567.9,321.3 573.1,321.3" fill="none" stroke="#ff0000" stroke-width="2" stroke-linejoin="round" stroke-linecap="round" shape-rendering="crispEdges" />
<polyline points="198.0,393.0 213.6,393.3 226.1,394.4 240.0,394.7 254.8,395.3 273.5,395.1 288.5,394.9 301.0,394.5 308.5,394.7 319.4,393.2 330.0,391.3 342.5,387.5 355.0,383.8 367.5,380.0 380.0,376.3 386.3,373.8 392.6,370.0 400.0,365.0 405.0,362.8 413.8,356.6 422.6,351.3 431.5,346.9 440.3,341.6 450.0,334.4 462.5,326.3 475.0,320.0 487.5,313.8 500.0,308.8 507.6,305.6 520.0,301.9 530.0,299.8 539.6,294.5 549.4,291.1 559.2,290.1 564.1,289.6 567.0,288.6 573.0,288.6" fill="none" stroke="#ff0000" stroke-width="2" stroke-linejoin="round" stroke-linecap="round" shape-rendering="crispEdges" />
<polyline points="72.5,387.8 80.0,387.5 87.5,388.1 92.5,388.8 102.5,389.8 113.8,390.2 117.5,389.8 135.0,390.0 140.0,390.5 160.0,392.5 168.8,393.1 176.9,394.0 185.0,395.3 191.3,396.6 200.0,396.9 214.4,397.5 215.5,399.0 225.0,399.1 226.2,400.0 240.0,400.0 256.0,399.2 273.5,397.8 288.5,396.5 300.7,394.2 308.5,392.6 316.4,390.3 325.0,387.2 330.0,386.3 342.5,378.8 355.0,371.9 360.0,367.2 373.7,359.0 384.7,352.1 392.9,342.5 401.2,331.5 412.1,319.2 421.7,309.6 431.3,300.0 438.5,294.2 446.4,286.2 454.2,279.3 462.1,272.6 471.9,266.7 481.7,263.6 491.5,261.7 499.3,259.9 507.2,260.0 512.4,262.6 520.6,266.4 528.8,270.5 537.1,274.0 545.3,278.1 553.5,282.8 561.8,287.4 567.9,290.4 572.5,291.9" fill="none" stroke="#0000ff" stroke-width="2" stroke-linejoin="round" stroke-linecap="round" shape-rendering="crispEdges" />
</g>
<g shape-rendering="crispEdges">
<rect x="0" y="478" width="2" height="12" fill="#008c00"/>
<rect x="1" y="477" width="2" height="13" fill="#008c00"/>
<rect x="2" y="474" width="2" height="16" fill="#008c00"/>
<rect x="4" y="479" width="2" height="11" fill="#008c00"/>
<rect x="5" y="479" width="2" height="11" fill="#008c00"/>
<rect x="6" y="478" width="2" height="12" fill="#008c00"/>
<rect x="7" y="482" width="2" height="8" fill="#008c00"/>
<rect x="9" y="479" width="2" height="11" fill="#008c00"/>
<rect x="10" y="479" width="2" height="11" fill="#008c00"/>
<rect x="11" y="477" width="2" height="13" fill="#008c00"/>
<rect x="12" y="484" width="2" height="6" fill="#008c00"/>
<rect x="14" y="482" width="2" height="8" fill="#008c00"/>
<rect x="15" y="484" width="2" height="6" fill="#008c00"/>
<rect x="16" y="476" width="2" height="14" fill="#008c00"/>
<rect x="17" y="479" width="2" height="11" fill="#008c00"/>
<rect x="18" y="473" width="2" height="17" fill="#008c00"/>
<rect x="20" y="477" width="2" height="13" fill="#008c00"/>
<rect x="21" y="477" width="2" height="13" fill="#008c00"/>
<rect x="22" y="479" width="2" height="11" fill="#008c00"/>
<rect x="23" y="479" width="2" height="11" fill="#008c00"/>
<rect x="25" y="483" width="2" height="7" fill="#008c00"/>
<rect x="26" y="484" width="2" height="6" fill="#008c00"/>
<rect x="27" y="480" width="2" height="10" fill="#008c00"/>
<rect x="28" y="484" width="2" height="6" fill="#008c00"/>
<rect x="30" y="482" width="2" height="8" fill="#008c00"/>
<rect x="31" y="482" width="2" height="8" fill="#008c00"/>
<rect x="32" y="484" width="2" height="6" fill="#008c00"/>
<rect x="33" y="480" width="2" height="10" fill="#008c00"/>
<rect x="34" y="480" width="2" height="10" fill="#008c00"/>
<rect x="36" y="476" width="2" height="14" fill="#008c00"/>
<rect x="37" y="479" width="2" height="11" fill="#008c00"/>
<rect x="38" y="478" width="2" height="12" fill="#008c00"/>
<rect x="39" y="464" width="2" height="26" fill="#008c00"/>
<rect x="41" y="477" width="2" height="13" fill="#008c00"/>
<rect x="42" y="472" width="2" height="18" fill="#008c00"/>
<rect x="43" y="481" width="2" height="9" fill="#008c00"/>
<rect x="44" y="474" width="2" height="16" fill="#008c00"/>
<rect x="46" y="474" width="2" height="16" fill="#008c00"/>
<rect x="47" y="472" width="2" height="18" fill="#008c00"/>
<rect x="48" y="477" width="2" height="13" fill="#008c00"/>
<rect x="49" y="481" width="2" height="9" fill="#008c00"/>
<rect x="50" y="482" width="2" height="8" fill="#008c00"/>
<rect x="52" y="481" width="2" height="9" fill="#008c00"/>
<rect x="53" y="484" width="2" height="6" fill="#008c00"/>
<rect x="54" y="477" width="2" height="13" fill="#008c00"/>
<rect x="55" y="481" width="2" height="9" fill="#008c00"/>
<rect x="57" y="477" width="2" height="13" fill="#008c00"/>
<rect x="58" y="481" width="2" height="9" fill="#008c00"/>
<rect x="59" y="475" width="2" height="15" fill="#008c00"/>
<rect x="60" y="478" width="2" height="12" fill="#008c00"/>
<rect x="61" y="485" width="2" height="5" fill="#008c00"/>
<rect x="63" y="483" width="2" height="7" fill="#008c00"/>
<rect x="64" y="478" width="2" height="12" fill="#008c00"/>
<rect x="65" y="482" width="2" height="8" fill="#008c00"/>
<rect x="66" y="478" width="2" height="12" fill="#008c00"/>
<rect x="68" y="474" width="2" height="16" fill="#008c00"/>
<rect x="69" y="485" width="2" height="5" fill="#008c00"/>
<rect x="70" y="481" width="2" height="9" fill="#008c00"/>
<rect x="71" y="481" width="2" height="9" fill="#008c00"/>
<rect x="73" y="484" width="2" height="6" fill="#008c00"/>
<rect x="74" y="486" width="2" height="4" fill="#008c00"/>
<rect x="75" y="484" width="2" height="6" fill="#008c00"/>
<rect x="76" y="480" width="2" height="10" fill="#008c00"/>
<rect x="77" y="482" width="2" height="8" fill="#008c00"/>
<rect x="79" y="485" width="2" height="5" fill="#008c00"/>
<rect x="80" y="484" width="2" height="6" fill="#008c00"/>
<rect x="81" y="485" width="2" height="5" fill="#008c00"/>
<rect x="82" y="485" width="2" height="5" fill="#008c00"/>
<rect x="84" y="480" width="2" height="10" fill="#008c00"/>
<rect x="85" y="485" width="2" height="5" fill="#008c00"/>
<rect x="86" y="482" width="2" height="8" fill="#008c00"/>
<rect x="87" y="483" width="2" height="7" fill="#008c00"/>
<rect x="89" y="485" width="2" height="5" fill="#008c00"/>
<rect x="90" y="481" width="2" height="9" fill="#008c00"/>
<rect x="91" y="485" width="2" height="5" fill="#008c00"/>
<rect x="92" y="482" width="2" height="8" fill="#008c00"/>
<rect x="93" y="485" width="2" height="5" fill="#008c00"/>
<rect x="95" y="484" width="2" height="6" fill="#008c00"/>
<rect x="96" y="485" width="2" height="5" fill="#008c00"/>
<rect x="97" y="485" width="2" height="5" fill="#008c00"/>
<rect x="98" y="480" width="2" height="10" fill="#008c00"/>
<rect x="100" y="482" width="2" height="8" fill="#008c00"/>
<rect x="101" y="485" width="2" height="5" fill="#008c00"/>
<rect x="102" y="481" width="2" height="9" fill="#008c00"/>
<rect x="103" y="485" width="2" height="5" fill="#008c00"/>
<rect x="105" y="484" width="2" height="6" fill="#008c00"/>
<rect x="106" y="482" width="2" height="8" fill="#008c00"/>
<rect x="107" y="483" width="2" height="7" fill="#008c00"/>
<rect x="108" y="486" width="2" height="4" fill="#008c00"/>
<rect x="109" y="482" width="2" height="8" fill="#008c00"/>
<rect x="111" y="486" width="2" height="4" fill="#008c00"/>
<rect x="112" y="486" width="2" height="4" fill="#008c00"/>
<rect x="113" y="483" width="2" height="7" fill="#008c00"/>
<rect x="114" y="486" width="2" height="4" fill="#008c00"/>
<rect x="116" y="486" width="2" height="4" fill="#008c00"/>
<rect x="117" y="487" width="2" height="3" fill="#008c00"/>
<rect x="118" y="487" width="2" height="3" fill="#008c00"/>
<rect x="119" y="485" width="2" height="5" fill="#008c00"/>
<rect x="121" y="487" width="2" height="3" fill="#008c00"/>
<rect x="122" y="485" width="2" height="5" fill="#008c00"/>
<rect x="123" y="486" width="2" height="4" fill="#008c00"/>
<rect x="124" y="486" width="2" height="4" fill="#008c00"/>
<rect x="125" y="484" width="2" height="6" fill="#008c00"/>
<rect x="127" y="486" width="2" height="4" fill="#008c00"/>
<rect x="128" y="486" width="2" height="4" fill="#008c00"/>
<rect x="129" y="485" width="2" height="5" fill="#008c00"/>
<rect x="130" y="487" width="2" height="3" fill="#008c00"/>
<rect x="132" y="487" width="2" height="3" fill="#008c00"/>
<rect x="133" y="482" width="2" height="8" fill="#008c00"/>
<rect x="134" y="484" width="2" height="6" fill="#008c00"/>
<rect x="135" y="486" width="2" height="4" fill="#008c00"/>
<rect x="137" y="487" width="2" height="3" fill="#008c00"/>
<rect x="138" y="484" width="2" height="6" fill="#008c00"/>
<rect x="139" y="483" width="2" height="7" fill="#008c00"/>
<rect x="140" y="487" width="2" height="3" fill="#008c00"/>
<rect x="141" y="483" width="2" height="7" fill="#008c00"/>
<rect x="143" y="483" width="2" height="7" fill="#008c00"/>
<rect x="144" y="482" width="2" height="8" fill="#008c00"/>
<rect x="145" y="485" width="2" height="5" fill="#008c00"/>
<rect x="146" y="487" width="2" height="3" fill="#008c00"/>
<rect x="148" y="487" width="2" height="3" fill="#008c00"/>
<rect x="149" y="483" width="2" height="7" fill="#008c00"/>
<rect x="150" y="480" width="2" height="10" fill="#008c00"/>
<rect x="151" y="484" width="2" height="6" fill="#008c00"/>
<rect x="153" y="486" width="2" height="4" fill="#008c00"/>
<rect x="154" y="483" width="2" height="7" fill="#008c00"/>
<rect x="155" y="484" width="2" height="6" fill="#008c00"/>
<rect x="156" y="486" width="2" height="4" fill="#008c00"/>
<rect x="157" y="486" width="2" height="4" fill="#008c00"/>
<rect x="159" y="484" width="2" height="6" fill="#008c00"/>
<rect x="160" y="487" width="2" height="3" fill="#008c00"/>
<rect x="161" y="486" width="2" height="4" fill="#008c00"/>
<rect x="162" y="485" width="2" height="5" fill="#008c00"/>
<rect x="164" y="484" width="2" height="6" fill="#008c00"/>
<rect x="165" y="485" width="2" height="5" fill="#008c00"/>
<rect x="166" y="486" width="2" height="4" fill="#008c00"/>
<rect x="167" y="483" width="2" height="7" fill="#008c00"/>
<rect x="169" y="486" width="2" height="4" fill="#008c00"/>
<rect x="170" y="487" width="2" height="3" fill="#008c00"/>
<rect x="171" y="486" width="2" height="4" fill="#008c00"/>
<rect x="172" y="480" width="2" height="10" fill="#008c00"/>
<rect x="173" y="487" width="2" height="3" fill="#008c00"/>
<rect x="175" y="486" width="2" height="4" fill="#008c00"/>
<rect x="176" y="479" width="2" height="11" fill="#008c00"/>
<rect x="177" y="484" width="2" height="6" fill="#008c00"/>
<rect x="178" y="486" width="2" height="4" fill="#008c00"/>
<rect x="180" y="482" width="2" height="8" fill="#008c00"/>
<rect x="181" y="483" width="2" height="7" fill="#008c00"/>
<rect x="182" y="482" width="2" height="8" fill="#008c00"/>
<rect x="183" y="484" width="2" height="6" fill="#008c00"/>
<rect x="184" y="484" width="2" height="6" fill="#008c00"/>
<rect x="186" y="484" width="2" height="6" fill="#008c00"/>
<rect x="187" y="486" width="2" height="4" fill="#008c00"/>
<rect x="188" y="487" width="2" height="3" fill="#008c00"/>
<rect x="189" y="487" width="2" height="3" fill="#008c00"/>
<rect x="191" y="482" width="2" height="8" fill="#008c00"/>
<rect x="192" y="483" width="2" height="7" fill="#008c00"/>
<rect x="193" y="482" width="2" height="8" fill="#008c00"/>
<rect x="194" y="487" width="2" height="3" fill="#008c00"/>
<rect x="196" y="484" width="2" height="6" fill="#008c00"/>
<rect x="197" y="485" width="2" height="5" fill="#008c00"/>
<rect x="198" y="484" width="2" height="6" fill="#008c00"/>
<rect x="199" y="486" width="2" height="4" fill="#008c00"/>
<rect x="200" y="483" width="2" height="7" fill="#008c00"/>
<rect x="202" y="487" width="2" height="3" fill="#008c00"/>
<rect x="203" y="486" width="2" height="4" fill="#008c00"/>
<rect x="204" y="485" width="2" height="5" fill="#008c00"/>
<rect x="205" y="485" width="2" height="5" fill="#008c00"/>
<rect x="207" y="485" width="2" height="5" fill="#008c00"/>
<rect x="208" y="485" width="2" height="5" fill="#008c00"/>
<rect x="209" y="485" width="2" height="5" fill="#008c00"/>
<rect x="210" y="485" width="2" height="5" fill="#008c00"/>
<rect x="212" y="487" width="2" height="3" fill="#008c00"/>
<rect x="213" y="485" width="2" height="5" fill="#008c00"/>
<rect x="214" y="485" width="2" height="5" fill="#008c00"/>
<rect x="215" y="485" width="2" height="5" fill="#008c00"/>
<rect x="216" y="486" width="2" height="4" fill="#008c00"/>
<rect x="218" y="485" width="2" height="5" fill="#008c00"/>
<rect x="219" y="485" width="2" height="5" fill="#008c00"/>
<rect x="220" y="486" width="2" height="4" fill="#008c00"/>
<rect x="221" y="486" width="2" height="4" fill="#008c00"/>
<rect x="223" y="487" width="2" height="3" fill="#008c00"/>
<rect x="224" y="486" width="2" height="4" fill="#008c00"/>
<rect x="225" y="486" width="2" height="4" fill="#008c00"/>
<rect x="226" y="488" width="2" height="2" fill="#008c00"/>
<rect x="228" y="487" width="2" height="3" fill="#008c00"/>
<rect x="229" y="486" width="2" height="4" fill="#008c00"/>
<rect x="230" y="486" width="2" height="4" fill="#008c00"/>
<rect x="231" y="486" width="2" height="4" fill="#008c00"/>
<rect x="232" y="487" width="2" height="3" fill="#008c00"/>
<rect x="234" y="486" width="2" height="4" fill="#008c00"/>
<rect x="235" y="474" width="2" height="16" fill="#008c00"/>
<rect x="236" y="487" width="2" height="3" fill="#008c00"/>
<rect x="237" y="485" width="2" height="5" fill="#008c00"/>
<rect x="239" y="487" width="2" height="3" fill="#008c00"/>
<rect x="240" y="485" width="2" height="5" fill="#008c00"/>
<rect x="241" y="487" width="2" height="3" fill="#008c00"/>
<rect x="242" y="485" width="2" height="5" fill="#008c00"/>
<rect x="244" y="485" width="2" height="5" fill="#008c00"/>
<rect x="245" y="486" width="2" height="4" fill="#008c00"/>
<rect x="246" y="480" width="2" height="10" fill="#008c00"/>
<rect x="247" y="484" width="2" height="6" fill="#008c00"/>
<rect x="248" y="483" width="2" height="7" fill="#008c00"/>
<rect x="250" y="481" width="2" height="9" fill="#008c00"/>
<rect x="251" y="485" width="2" height="5" fill="#008c00"/>
<rect x="252" y="486" width="2" height="4" fill="#008c00"/>
<rect x="253" y="484" width="2" height="6" fill="#008c00"/>
<rect x="255" y="479" width="2" height="11" fill="#008c00"/>
<rect x="256" y="485" width="2" height="5" fill="#008c00"/>
<rect x="257" y="485" width="2" height="5" fill="#008c00"/>
<rect x="258" y="480" width="2" height="10" fill="#008c00"/>
<rect x="260" y="481" width="2" height="9" fill="#008c00"/>
<rect x="261" y="483" width="2" height="7" fill="#008c00"/>
<rect x="262" y="473" width="2" height="17" fill="#008c00"/>
<rect x="263" y="483" width="2" height="7" fill="#008c00"/>
<rect x="264" y="481" width="2" height="9" fill="#008c00"/>
<rect x="266" y="484" width="2" height="6" fill="#008c00"/>
<rect x="267" y="482" width="2" height="8" fill="#008c00"/>
<rect x="268" y="479" width="2" height="11" fill="#008c00"/>
<rect x="269" y="479" width="2" height="11" fill="#008c00"/>
<rect x="271" y="479" width="2" height="11" fill="#008c00"/>
<rect x="272" y="483" width="2" height="7" fill="#008c00"/>
<rect x="273" y="481" width="2" height="9" fill="#008c00"/>
<rect x="274" y="483" width="2" height="7" fill="#008c00"/>
<rect x="276" y="485" width="2" height="5" fill="#008c00"/>
<rect x="277" y="476" width="2" height="14" fill="#008c00"/>
<rect x="278" y="480" width="2" height="10" fill="#008c00"/>
<rect x="279" y="480" width="2" height="10" fill="#008c00"/>
<rect x="280" y="474" width="2" height="16" fill="#008c00"/>
<rect x="282" y="479" width="2" height="11" fill="#008c00"/>
<rect x="283" y="484" width="2" height="6" fill="#008c00"/>
<rect x="284" y="485" width="2" height="5" fill="#008c00"/>
<rect x="285" y="483" width="2" height="7" fill="#008c00"/>
<rect x="287" y="466" width="2" height="24" fill="#008c00"/>
<rect x="288" y="466" width="2" height="24" fill="#008c00"/>
<rect x="289" y="467" width="2" height="23" fill="#008c00"/>
<rect x="290" y="468" width="2" height="22" fill="#008c00"/>
<rect x="292" y="481" width="2" height="9" fill="#008c00"/>
<rect x="293" y="482" width="2" height="8" fill="#008c00"/>
<rect x="294" y="477" width="2" height="13" fill="#008c00"/>
<rect x="295" y="473" width="2" height="17" fill="#008c00"/>
<rect x="296" y="480" width="2" height="10" fill="#008c00"/>
<rect x="298" y="484" width="2" height="6" fill="#008c00"/>
<rect x="299" y="476" width="2" height="14" fill="#008c00"/>
<rect x="300" y="475" width="2" height="15" fill="#008c00"/>
<rect x="301" y="470" width="2" height="20" fill="#008c00"/>
<rect x="303" y="476" width="2" height="14" fill="#008c00"/>
<rect x="304" y="477" width="2" height="13" fill="#008c00"/>
<rect x="305" y="466" width="2" height="24" fill="#008c00"/>
<rect x="306" y="474" width="2" height="16" fill="#008c00"/>
<rect x="307" y="474" width="2" height="16" fill="#008c00"/>
<rect x="309" y="481" width="2" height="9" fill="#008c00"/>
<rect x="310" y="478" width="2" height="12" fill="#008c00"/>
<rect x="311" y="483" width="2" height="7" fill="#008c00"/>
<rect x="312" y="474" width="2" height="16" fill="#008c00"/>
<rect x="314" y="481" width="2" height="9" fill="#008c00"/>
<rect x="315" y="482" width="2" height="8" fill="#008c00"/>
<rect x="316" y="483" width="2" height="7" fill="#008c00"/>
<rect x="317" y="478" width="2" height="12" fill="#008c00"/>
<rect x="319" y="480" width="2" height="10" fill="#008c00"/>
<rect x="320" y="478" width="2" height="12" fill="#008c00"/>
<rect x="321" y="478" width="2" height="12" fill="#008c00"/>
<rect x="322" y="477" width="2" height="13" fill="#008c00"/>
<rect x="323" y="476" width="2" height="14" fill="#008c00"/>
<rect x="325" y="478" width="2" height="12" fill="#008c00"/>
<rect x="326" y="473" width="2" height="17" fill="#008c00"/>
<rect x="327" y="480" width="2" height="10" fill="#008c00"/>
<rect x="328" y="463" width="2" height="27" fill="#008c00"/>
<rect x="330" y="484" width="2" height="6" fill="#008c00"/>
<rect x="331" y="480" width="2" height="10" fill="#008c00"/>
<rect x="332" y="478" width="2" height="12" fill="#008c00"/>
<rect x="333" y="483" width="2" height="7" fill="#008c00"/>
<rect x="335" y="474" width="2" height="16" fill="#008c00"/>
<rect x="336" y="482" width="2" height="8" fill="#008c00"/>
<rect x="337" y="478" width="2" height="12" fill="#008c00"/>
<rect x="338" y="480" width="2" height="10" fill="#008c00"/>
<rect x="339" y="479" width="2" height="11" fill="#008c00"/>
<rect x="341" y="478" width="2" height="12" fill="#008c00"/>
<rect x="342" y="481" width="2" height="9" fill="#008c00"/>
<rect x="343" y="478" width="2" height="12" fill="#008c00"/>
<rect x="344" y="477" width="2" height="13" fill="#008c00"/>
<rect x="346" y="484" width="2" height="6" fill="#008c00"/>
<rect x="347" y="477" width="2" height="13" fill="#008c00"/>
<rect x="348" y="479" width="2" height="11" fill="#008c00"/>
<rect x="349" y="484" width="2" height="6" fill="#008c00"/>
<rect x="351" y="481" width="2" height="9" fill="#008c00"/>
<rect x="352" y="480" width="2" height="10" fill="#008c00"/>
<rect x="353" y="479" width="2" height="11" fill="#008c00"/>
<rect x="354" y="483" width="2" height="7" fill="#008c00"/>
<rect x="355" y="482" width="2" height="8" fill="#008c00"/>
<rect x="357" y="470" width="2" height="20" fill="#008c00"/>
<rect x="358" y="480" width="2" height="10" fill="#008c00"/>
<rect x="359" y="478" width="2" height="12" fill="#008c00"/>
<rect x="360" y="482" width="2" height="8" fill="#008c00"/>
<rect x="362" y="480" width="2" height="10" fill="#008c00"/>
<rect x="363" y="484" width="2" height="6" fill="#008c00"/>
<rect x="364" y="479" width="2" height="11" fill="#008c00"/>
<rect x="365" y="471" width="2" height="19" fill="#008c00"/>
<rect x="367" y="480" width="2" height="10" fill="#008c00"/>
<rect x="368" y="479" width="2" height="11" fill="#008c00"/>
<rect x="369" y="483" width="2" height="7" fill="#008c00"/>
<rect x="370" y="477" width="2" height="13" fill="#008c00"/>
<rect x="371" y="476" width="2" height="14" fill="#008c00"/>
<rect x="373" y="476" width="2" height="14" fill="#008c00"/>
<rect x="374" y="480" width="2" height="10" fill="#008c00"/>
<rect x="375" y="478" width="2" height="12" fill="#008c00"/>
<rect x="376" y="473" width="2" height="17" fill="#008c00"/>
<rect x="378" y="476" width="2" height="14" fill="#008c00"/>
<rect x="379" y="477" width="2" height="13" fill="#008c00"/>
<rect x="380" y="481" width="2" height="9" fill="#008c00"/>
<rect x="381" y="483" width="2" height="7" fill="#008c00"/>
<rect x="383" y="480" width="2" height="10" fill="#008c00"/>
<rect x="384" y="479" width="2" height="11" fill="#008c00"/>
<rect x="385" y="477" width="2" height="13" fill="#008c00"/>
<rect x="386" y="480" width="2" height="10" fill="#008c00"/>
<rect x="387" y="467" width="2" height="23" fill="#008c00"/>
<rect x="389" y="477" width="2" height="13" fill="#008c00"/>
<rect x="390" y="484" width="2" height="6" fill="#008c00"/>
<rect x="391" y="477" width="2" height="13" fill="#008c00"/>
<rect x="392" y="483" width="2" height="7" fill="#008c00"/>
<rect x="394" y="481" width="2" height="9" fill="#008c00"/>
<rect x="395" y="467" width="2" height="23" fill="#008c00"/>
<rect x="396" y="483" width="2" height="7" fill="#008c00"/>
<rect x="397" y="483" width="2" height="7" fill="#008c00"/>
<rect x="399" y="479" width="2" height="11" fill="#008c00"/>
<rect x="400" y="477" width="2" height="13" fill="#008c00"/>
<rect x="401" y="476" width="2" height="14" fill="#008c00"/>
<rect x="402" y="466" width="2" height="24" fill="#008c00"/>
<rect x="403" y="475" width="2" height="15" fill="#008c00"/>
<rect x="405" y="479" width="2" height="11" fill="#008c00"/>
<rect x="406" y="474" width="2" height="16" fill="#008c00"/>
<rect x="407" y="482" width="2" height="8" fill="#008c00"/>
<rect x="408" y="476" width="2" height="14" fill="#008c00"/>
<rect x="410" y="478" width="2" height="12" fill="#008c00"/>
<rect x="411" y="480" width="2" height="10" fill="#008c00"/>
<rect x="412" y="476" width="2" height="14" fill="#008c00"/>
<rect x="413" y="478" width="2" height="12" fill="#008c00"/>
<rect x="415" y="479" width="2" height="11" fill="#008c00"/>
<rect x="416" y="477" width="2" height="13" fill="#008c00"/>
<rect x="417" y="479" width="2" height="11" fill="#008c00"/>
<rect x="418" y="482" width="2" height="8" fill="#008c00"/>
<rect x="419" y="481" width="2" height="9" fill="#008c00"/>
<rect x="421" y="477" width="2" height="13" fill="#008c00"/>
<rect x="422" y="477" width="2" height="13" fill="#008c00"/>
<rect x="423" y="483" width="2" height="7" fill="#008c00"/>
<rect x="424" y="478" width="2" height="12" fill="#008c00"/>
<rect x="426" y="477" width="2" height="13" fill="#008c00"/>
<rect x="427" y="477" width="2" height="13" fill="#008c00"/>
<rect x="428" y="481" width="2" height="9" fill="#008c00"/>
<rect x="429" y="484" width="2" height="6" fill="#008c00"/>
<rect x="431" y="482" width="2" height="8" fill="#008c00"/>
<rect x="432" y="482" width="2" height="8" fill="#008c00"/>
<rect x="433" y="482" width="2" height="8" fill="#008c00"/>
<rect x="434" y="486" width="2" height="4" fill="#008c00"/>
<rect x="435" y="480" width="2" height="10" fill="#008c00"/>
<rect x="437" y="483" width="2" height="7" fill="#008c00"/>
<rect x="438" y="484" width="2" height="6" fill="#008c00"/>
<rect x="439" y="481" width="2" height="9" fill="#008c00"/>
<rect x="440" y="483" width="2" height="7" fill="#008c00"/>
<rect x="442" y="483" width="2" height="7" fill="#008c00"/>
<rect x="443" y="482" width="2" height="8" fill="#008c00"/>
<rect x="444" y="486" width="2" height="4" fill="#008c00"/>
<rect x="445" y="483" width="2" height="7" fill="#008c00"/>
<rect x="446" y="484" width="2" height="6" fill="#008c00"/>
<rect x="448" y="481" width="2" height="9" fill="#008c00"/>
<rect x="449" y="481" width="2" height="9" fill="#008c00"/>
<rect x="450" y="475" width="2" height="15" fill="#008c00"/>
<rect x="451" y="474" width="2" height="16" fill="#008c00"/>
<rect x="453" y="485" width="2" height="5" fill="#008c00"/>
<rect x="454" y="454" width="2" height="36" fill="#008c00"/>
<rect x="455" y="468" width="2" height="22" fill="#008c00"/>
<rect x="456" y="478" width="2" height="12" fill="#008c00"/>
<rect x="458" y="468" width="2" height="22" fill="#008c00"/>
<rect x="459" y="481" width="2" height="9" fill="#008c00"/>
<rect x="460" y="465" width="2" height="25" fill="#008c00"/>
<rect x="461" y="465" width="2" height="25" fill="#008c00"/>
<rect x="462" y="468" width="2" height="22" fill="#008c00"/>
<rect x="464" y="482" width="2" height="8" fill="#008c00"/>
<rect x="465" y="474" width="2" height="16" fill="#008c00"/>
<rect x="466" y="469" width="2" height="21" fill="#008c00"/>
<rect x="467" y="480" width="2" height="10" fill="#008c00"/>
<rect x="469" y="479" width="2" height="11" fill="#008c00"/>
<rect x="470" y="473" width="2" height="17" fill="#008c00"/>
<rect x="471" y="469" width="2" height="21" fill="#008c00"/>
<rect x="472" y="477" width="2" height="13" fill="#008c00"/>
<rect x="474" y="473" width="2" height="17" fill="#008c00"/>
<rect x="475" y="480" width="2" height="10" fill="#008c00"/>
<rect x="476" y="471" width="2" height="19" fill="#008c00"/>
<rect x="477" y="480" width="2" height="10" fill="#008c00"/>
<rect x="478" y="475" width="2" height="15" fill="#008c00"/>
<rect x="480" y="479" width="2" height="11" fill="#008c00"/>
<rect x="481" y="480" width="2" height="10" fill="#008c00"/>
<rect x="482" y="477" width="2" height="13" fill="#008c00"/>
<rect x="483" y="479" width="2" height="11" fill="#008c00"/>
<rect x="485" y="480" width="2" height="10" fill="#008c00"/>
<rect x="486" y="481" width="2" height="9" fill="#008c00"/>
<rect x="487" y="480" width="2" height="10" fill="#008c00"/>
<rect x="488" y="483" width="2" height="7" fill="#008c00"/>
<rect x="490" y="483" width="2" height="7" fill="#008c00"/>
<rect x="491" y="480" width="2" height="10" fill="#008c00"/>
<rect x="492" y="480" width="2" height="10" fill="#008c00"/>
<rect x="493" y="471" width="2" height="19" fill="#008c00"/>
<rect x="494" y="479" width="2" height="11" fill="#008c00"/>
<rect x="496" y="478" width="2" height="12" fill="#008c00"/>
<rect x="497" y="480" width="2" height="10" fill="#008c00"/>
<rect x="498" y="484" width="2" height="6" fill="#008c00"/>
<rect x="499" y="481" width="2" height="9" fill="#008c00"/>
<rect x="501" y="480" width="2" height="10" fill="#008c00"/>
<rect x="502" y="480" width="2" height="10" fill="#008c00"/>
<rect x="503" y="484" width="2" height="6" fill="#008c00"/>
<rect x="504" y="483" width="2" height="7" fill="#008c00"/>
<rect x="506" y="479" width="2" height="11" fill="#008c00"/>
<rect x="507" y="484" width="2" height="6" fill="#008c00"/>
<rect x="508" y="478" width="2" height="12" fill="#008c00"/>
<rect x="509" y="479" width="2" height="11" fill="#008c00"/>
<rect x="510" y="484" width="2" height="6" fill="#008c00"/>
<rect x="512" y="484" width="2" height="6" fill="#008c00"/>
<rect x="513" y="480" width="2" height="10" fill="#008c00"/>
<rect x="514" y="483" width="2" height="7" fill="#008c00"/>
<rect x="515" y="485" width="2" height="5" fill="#008c00"/>
<rect x="517" y="479" width="2" height="11" fill="#008c00"/>
<rect x="518" y="482" width="2" height="8" fill="#008c00"/>
<rect x="519" y="479" width="2" height="11" fill="#008c00"/>
<rect x="520" y="485" width="2" height="5" fill="#008c00"/>
<rect x="522" y="483" width="2" height="7" fill="#008c00"/>
<rect x="523" y="481" width="2" height="9" fill="#008c00"/>
<rect x="524" y="486" width="2" height="4" fill="#008c00"/>
<rect x="525" y="484" width="2" height="6" fill="#008c00"/>
<rect x="526" y="481" width="2" height="9" fill="#008c00"/>
<rect x="528" y="479" width="2" height="11" fill="#008c00"/>
<rect x="529" y="479" width="2" height="11" fill="#008c00"/>
<rect x="530" y="485" width="2" height="5" fill="#008c00"/>
<rect x="531" y="482" width="2" height="8" fill="#008c00"/>
<rect x="533" y="471" width="2" height="19" fill="#008c00"/>
<rect x="534" y="482" width="2" height="8" fill="#008c00"/>
<rect x="535" y="481" width="2" height="9" fill="#008c00"/>
<rect x="536" y="484" width="2" height="6" fill="#008c00"/>
<rect x="538" y="485" width="2" height="5" fill="#008c00"/>
<rect x="539" y="485" width="2" height="5" fill="#008c00"/>
<rect x="540" y="485" width="2" height="5" fill="#008c00"/>
<rect x="541" y="482" width="2" height="8" fill="#008c00"/>
<rect x="542" y="483" width="2" height="7" fill="#008c00"/>
<rect x="544" y="477" width="2" height="13" fill="#008c00"/>
<rect x="545" y="484" width="2" height="6" fill="#008c00"/>
<rect x="546" y="484" width="2" height="6" fill="#008c00"/>
<rect x="547" y="484" width="2" height="6" fill="#008c00"/>
<rect x="549" y="479" width="2" height="11" fill="#008c00"/>
<rect x="550" y="478" width="2" height="12" fill="#008c00"/>
<rect x="551" y="478" width="2" height="12" fill="#008c00"/>
<rect x="552" y="485" width="2" height="5" fill="#008c00"/>
<rect x="554" y="485" width="2" height="5" fill="#008c00"/>
<rect x="555" y="479" width="2" height="11" fill="#008c00"/>
<rect x="556" y="483" width="2" height="7" fill="#008c00"/>
<rect x="557" y="481" width="2" height="9" fill="#008c00"/>
<rect x="558" y="484" width="2" height="6" fill="#008c00"/>
<rect x="560" y="483" width="2" height="7" fill="#008c00"/>
<rect x="561" y="483" width="2" height="7" fill="#008c00"/>
<rect x="562" y="484" width="2" height="6" fill="#008c00"/>
<rect x="563" y="471" width="2" height="19" fill="#008c00"/>
<rect x="565" y="486" width="2" height="4" fill="#008c00"/>
<rect x="566" y="481" width="2" height="9" fill="#008c00"/>
<rect x="567" y="480" width="2" height="10" fill="#008c00"/>
<rect x="568" y="484" width="2" height="6" fill="#008c00"/>
<rect x="569" y="483" width="2" height="7" fill="#008c00"/>
<rect x="571" y="481" width="2" height="9" fill="#008c00"/>
<rect x="448" y="479" width="2" height="11" fill="#008c00"/>
<rect x="450" y="474" width="3" height="16" fill="#008c00"/>
<rect x="453" y="454" width="2" height="36" fill="#008c00"/>
<rect x="455" y="468" width="3" height="22" fill="#008c00"/>
<rect x="458" y="465" width="4" height="25" fill="#008c00"/>
<rect x="462" y="474" width="3" height="16" fill="#008c00"/>
<rect x="465" y="469" width="2" height="21" fill="#008c00"/>
<rect x="467" y="475" width="3" height="15" fill="#008c00"/>
<rect x="470" y="469" width="2" height="21" fill="#008c00"/>
<rect x="472" y="478" width="2" height="12" fill="#008c00"/>
<rect x="474" y="482" width="1" height="8" fill="#008c00"/>
<rect x="475" y="481" width="2" height="9" fill="#008c00"/>
<rect x="477" y="479" width="3" height="11" fill="#008c00"/>
</g>
<polyline points="0.0,476.0 3.1,477.6 7.8,478.3 12.5,479.1 15.6,479.9 21.9,479.4 25.0,478.8 31.3,478.3 37.6,478.0 40.7,477.6 46.9,477.9 51.6,478.3 56.3,479.1 62.6,479.9 67.3,481.0 72.0,481.8 76.7,482.6 79.8,481.5 86.1,481.5 93.9,482.3 100.0,482.6 109.4,483.5 115.6,484.6 121.9,485.4 131.3,485.7 134.4,484.9 142.3,484.6 150.1,484.1 154.8,484.3 162.6,484.9 168.9,484.6 178.2,484.1 186.1,483.8 193.9,483.8 200.0,484.8 204.7,485.7 215.6,485.7 225.0,485.7 226.6,486.6 234.4,486.6 237.6,485.4 242.3,484.6 246.9,483.5 253.2,482.3 259.5,481.5 265.7,480.7 272.0,481.0 278.2,481.5 284.5,481.5 289.2,481.0 292.3,479.4 297.0,478.8 300.0,477.8 304.7,476.3 309.4,475.7 312.5,476.3 315.6,477.6 320.3,478.3 326.6,479.1 334.4,479.1 343.8,479.1 351.6,479.9 354.0,481.5 357.9,481.0 362.6,480.4 368.9,479.4 375.1,479.1 381.4,478.3 387.6,478.3 393.9,478.3 400.0,477.9 404.7,477.6 407.8,476.3 411.0,476.8 414.1,478.3 418.8,479.1 425.0,479.9 429.7,481.0 434.4,482.3 440.7,482.6 446.9,482.6 452.4,482.6 454.8,480.7 457.9,478.8 462.6,476.8 467.3,474.4 472.0,472.9 475.9,472.9 479.8,474.4 482.9,476.8 486.1,478.8 490.8,479.9 495.5,481.0 500.9,481.6 509.9,480.9 518.8,480.4 521.7,481.6 533.6,481.3 538.1,480.4 542.5,481.9 545.5,480.4 554.4,480.9 558.9,482.3 561.9,482.8 564.8,481.3 572.3,481.6" fill="none" stroke="#ff0000" stroke-width="2" stroke-linejoin="round" stroke-linecap="round" shape-rendering="crispEdges" />
<g shape-rendering="crispEdges">
<rect x="586" y="0" width="1" height="85" fill="#000"/>
<rect x="586" y="89" width="1" height="89" fill="#000"/>
<rect x="586" y="182" width="1" height="249" fill="#000"/>
<rect x="586" y="435" width="1" height="59" fill="#000"/>
<rect x="587" y="82" width="8" height="1" fill="#000"/>
<rect x="587" y="74" width="3" height="1" fill="#000"/>
<rect x="587" y="67" width="3" height="1" fill="#000"/>
<rect x="587" y="59" width="3" height="1" fill="#000"/>
<rect x="587" y="51" width="3" height="1" fill="#000"/>
<rect x="587" y="44" width="8" height="1" fill="#000"/>
<rect x="587" y="36" width="3" height="1" fill="#000"/>
<rect x="587" y="28" width="3" height="1" fill="#000"/>
<rect x="587" y="20" width="3" height="1" fill="#000"/>
<rect x="587" y="13" width="3" height="1" fill="#000"/>
<rect x="587" y="5" width="8" height="1" fill="#000"/>
<rect x="587" y="170" width="3" height="1" fill="#000"/>
<rect x="587" y="160" width="3" height="1" fill="#000"/>
<rect x="587" y="151" width="3" height="1" fill="#000"/>
<rect x="587" y="142" width="8" height="1" fill="#000"/>
<rect x="587" y="133" width="3" height="1" fill="#000"/>
<rect x="587" y="123" width="3" height="1" fill="#000"/>
<rect x="587" y="114" width="3" height="1" fill="#000"/>
<rect x="587" y="105" width="3" height="1" fill="#000"/>
<rect x="587" y="96" width="8" height="1" fill="#000"/>
<rect x="587" y="429" width="3" height="1" fill="#000"/>
<rect x="587" y="425" width="3" height="1" fill="#000"/>
<rect x="587" y="421" width="3" height="1" fill="#000"/>
<rect x="587" y="417" width="3" height="1" fill="#000"/>
<rect x="587" y="413" width="8" height="1" fill="#000"/>
<rect x="587" y="409" width="3" height="1" fill="#000"/>
<rect x="587" y="404" width="3" height="1" fill="#000"/>
<rect x="587" y="400" width="3" height="1" fill="#000"/>
<rect x="587" y="396" width="3" height="1" fill="#000"/>
<rect x="587" y="392" width="8" height="1" fill="#000"/>
<rect x="587" y="388" width="3" height="1" fill="#000"/>
<rect x="587" y="384" width="3" height="1" fill="#000"/>
<rect x="587" y="379" width="3" height="1" fill="#000"/>
<rect x="587" y="375" width="3" height="1" fill="#000"/>
<rect x="587" y="371" width="8" height="1" fill="#000"/>
<rect x="587" y="367" width="3" height="1" fill="#000"/>
<rect x="587" y="363" width="3" height="1" fill="#000"/>
<rect x="587" y="359" width="3" height="1" fill="#000"/>
<rect x="587" y="354" width="3" height="1" fill="#000"/>
<rect x="587" y="350" width="8" height="1" fill="#000"/>
<rect x="587" y="346" width="3" height="1" fill="#000"/>
<rect x="587" y="342" width="3" height="1" fill="#000"/>
<rect x="587" y="338" width="3" height="1" fill="#000"/>
<rect x="587" y="334" width="3" height="1" fill="#000"/>
<rect x="587" y="329" width="8" height="1" fill="#000"/>
<rect x="587" y="325" width="3" height="1" fill="#000"/>
<rect x="587" y="321" width="3" height="1" fill="#000"/>
<rect x="587" y="317" width="3" height="1" fill="#000"/>
<rect x="587" y="313" width="3" height="1" fill="#000"/>
<rect x="587" y="309" width="8" height="1" fill="#000"/>
<rect x="587" y="304" width="3" height="1" fill="#000"/>
<rect x="587" y="300" width="3" height="1" fill="#000"/>
<rect x="587" y="296" width="3" height="1" fill="#000"/>
<rect x="587" y="292" width="3" height="1" fill="#000"/>
<rect x="587" y="288" width="8" height="1" fill="#000"/>
<rect x="587" y="284" width="3" height="1" fill="#000"/>
<rect x="587" y="279" width="3" height="1" fill="#000"/>
<rect x="587" y="275" width="3" height="1" fill="#000"/>
<rect x="587" y="271" width="3" height="1" fill="#000"/>
<rect x="587" y="267" width="8" height="1" fill="#000"/>
<rect x="587" y="263" width="3" height="1" fill="#000"/>
<rect x="587" y="259" width="3" height="1" fill="#000"/>
<rect x="587" y="254" width="3" height="1" fill="#000"/>
<rect x="587" y="250" width="3" height="1" fill="#000"/>
<rect x="587" y="246" width="8" height="1" fill="#000"/>
<rect x="587" y="242" width="3" height="1" fill="#000"/>
<rect x="587" y="238" width="3" height="1" fill="#000"/>
<rect x="587" y="234" width="3" height="1" fill="#000"/>
<rect x="587" y="230" width="3" height="1" fill="#000"/>
<rect x="587" y="225" width="8" height="1" fill="#000"/>
<rect x="587" y="221" width="3" height="1" fill="#000"/>
<rect x="587" y="217" width="3" height="1" fill="#000"/>
<rect x="587" y="213" width="3" height="1" fill="#000"/>
<rect x="587" y="209" width="3" height="1" fill="#000"/>
<rect x="587" y="205" width="8" height="1" fill="#000"/>
<rect x="587" y="200" width="3" height="1" fill="#000"/>
<rect x="587" y="196" width="3" height="1" fill="#000"/>
<rect x="587" y="192" width="3" height="1" fill="#000"/>
<rect x="587" y="188" width="3" height="1" fill="#000"/>
<rect x="587" y="184" width="8" height="1" fill="#000"/>
<rect x="587" y="475" width="3" height="1" fill="#000"/>
<rect x="587" y="468" width="3" height="1" fill="#000"/>
<rect x="587" y="461" width="3" height="1" fill="#000"/>
<rect x="587" y="454" width="8" height="1" fill="#000"/>
<rect x="587" y="447" width="3" height="1" fill="#000"/>
<rect x="587" y="440" width="3" height="1" fill="#000"/>
<rect x="0" y="493" width="587" height="1" fill="#000"/>
<rect x="1" y="494" width="1" height="16" fill="#000"/>
<rect x="28" y="494" width="1" height="16" fill="#000"/>
<rect x="53" y="494" width="1" height="16" fill="#000"/>
<rect x="82" y="494" width="1" height="16" fill="#000"/>
<rect x="109" y="494" width="1" height="16" fill="#000"/>
<rect x="161" y="494" width="1" height="16" fill="#000"/>
<rect x="188" y="494" width="1" height="16" fill="#000"/>
<rect x="215" y="494" width="1" height="16" fill="#000"/>
<rect x="261" y="494" width="1" height="16" fill="#000"/>
<rect x="287" y="494" width="1" height="16" fill="#000"/>
<rect x="312" y="494" width="1" height="16" fill="#000"/>
<rect x="337" y="494" width="1" height="16" fill="#000"/>
<rect x="363" y="494" width="1" height="16" fill="#000"/>
<rect x="392" y="494" width="1" height="16" fill="#000"/>
<rect x="418" y="494" width="1" height="16" fill="#000"/>
<rect x="443" y="494" width="1" height="16" fill="#000"/>
<rect x="472" y="494" width="1" height="16" fill="#000"/>
<rect x="497" y="494" width="1" height="16" fill="#000"/>
<rect x="525" y="494" width="1" height="16" fill="#000"/>
<rect x="569" y="494" width="1" height="16" fill="#000"/>
<rect x="133" y="494" width="1" height="1" fill="#000"/>
<rect x="236" y="494" width="1" height="1" fill="#000"/>
<rect x="550" y="494" width="1" height="1" fill="#000"/>
</g>
<rect x="587" y="494" width="52" height="16" fill="#f0f0f0"/>
<g shape-rendering="crispEdges">
<rect x="588" y="480" width="29" height="13" fill="#fff"/>
<rect x="588" y="480" width="29" height="1" fill="#000"/>
<rect x="588" y="480" width="1" height="13" fill="#000"/>
<rect x="616" y="480" width="1" height="13" fill="#000"/>
</g>
<text x="633.0" y="49.7" font-size="12" text-anchor="end" fill="#000" stroke="#000" stroke-width="0.15" font-family="'Liberation Sans', sans-serif" letter-spacing="0.25">50</text>
<text x="633.0" y="101.7" font-size="12" text-anchor="end" fill="#000" stroke="#000" stroke-width="0.15" font-family="'Liberation Sans', sans-serif" letter-spacing="0.25">5000</text>
<text x="633.0" y="147.7" font-size="12" text-anchor="end" fill="#000" stroke="#000" stroke-width="0.15" font-family="'Liberation Sans', sans-serif" letter-spacing="0.25">0</text>
<text x="633.0" y="418.7" font-size="12" text-anchor="end" fill="#000" stroke="#000" stroke-width="0.15" font-family="'Liberation Sans', sans-serif" letter-spacing="0.25">15000</text>
<text x="633.0" y="397.7" font-size="12" text-anchor="end" fill="#000" stroke="#000" stroke-width="0.15" font-family="'Liberation Sans', sans-serif" letter-spacing="0.25">20000</text>
<text x="633.0" y="376.7" font-size="12" text-anchor="end" fill="#000" stroke="#000" stroke-width="0.15" font-family="'Liberation Sans', sans-serif" letter-spacing="0.25">25000</text>
<text x="633.0" y="355.7" font-size="12" text-anchor="end" fill="#000" stroke="#000" stroke-width="0.15" font-family="'Liberation Sans', sans-serif" letter-spacing="0.25">30000</text>
<text x="633.0" y="334.7" font-size="12" text-anchor="end" fill="#000" stroke="#000" stroke-width="0.15" font-family="'Liberation Sans', sans-serif" letter-spacing="0.25">35000</text>
<text x="633.0" y="314.7" font-size="12" text-anchor="end" fill="#000" stroke="#000" stroke-width="0.15" font-family="'Liberation Sans', sans-serif" letter-spacing="0.25">40000</text>
<text x="633.0" y="293.7" font-size="12" text-anchor="end" fill="#000" stroke="#000" stroke-width="0.15" font-family="'Liberation Sans', sans-serif" letter-spacing="0.25">45000</text>
<text x="633.0" y="272.7" font-size="12" text-anchor="end" fill="#000" stroke="#000" stroke-width="0.15" font-family="'Liberation Sans', sans-serif" letter-spacing="0.25">50000</text>
<text x="633.0" y="251.7" font-size="12" text-anchor="end" fill="#000" stroke="#000" stroke-width="0.15" font-family="'Liberation Sans', sans-serif" letter-spacing="0.25">55000</text>
<text x="633.0" y="230.7" font-size="12" text-anchor="end" fill="#000" stroke="#000" stroke-width="0.15" font-family="'Liberation Sans', sans-serif" letter-spacing="0.25">60000</text>
<text x="633.0" y="210.7" font-size="12" text-anchor="end" fill="#000" stroke="#000" stroke-width="0.15" font-family="'Liberation Sans', sans-serif" letter-spacing="0.25">65000</text>
<text x="633.0" y="459.7" font-size="12" text-anchor="end" fill="#000" stroke="#000" stroke-width="0.15" font-family="'Liberation Sans', sans-serif" letter-spacing="0.25">50000</text>
<g shape-rendering="crispEdges">
<rect x="591" y="319" width="46" height="16" fill="#000"/>
</g>
<svg x="591" y="319" width="46" height="16" overflow="hidden">
<text x="1.8" y="11.7" font-size="11" fill="#ff0000" font-family="'Liberation Sans', sans-serif" textLength="43.8" lengthAdjust="spacingAndGlyphs">35400.00</text>
</svg>
<text x="589.8" y="489.8" font-size="9.6" text-anchor="start" fill="#000" stroke="#000" stroke-width="0.15" font-family="'Liberation Sans', sans-serif" textLength="24.8" lengthAdjust="spacingAndGlyphs">x1000</text>
<defs><clipPath id="cx"><rect x="0" y="494" width="586" height="16"/></clipPath></defs>
<g clip-path="url(#cx)">
<text x="2.8" y="506.3" font-size="12" text-anchor="start" fill="#000" stroke="#000" stroke-width="0.15" font-family="'Liberation Sans', sans-serif" letter-spacing="-0.3">May</text>
<text x="29.8" y="506.3" font-size="12" text-anchor="start" fill="#000" stroke="#000" stroke-width="0.15" font-family="'Liberation Sans', sans-serif" letter-spacing="-0.3">Jun</text>
<text x="54.8" y="506.3" font-size="12" text-anchor="start" fill="#000" stroke="#000" stroke-width="0.15" font-family="'Liberation Sans', sans-serif" letter-spacing="-0.3">Jul</text>
<text x="83.8" y="506.3" font-size="12" text-anchor="start" fill="#000" stroke="#000" stroke-width="0.15" font-family="'Liberation Sans', sans-serif" letter-spacing="-0.3">Aug</text>
<text x="110.8" y="506.3" font-size="12" text-anchor="start" fill="#000" stroke="#000" stroke-width="0.15" font-family="'Liberation Sans', sans-serif" letter-spacing="-0.3">Sep</text>
<text x="162.8" y="506.3" font-size="12" text-anchor="start" fill="#000" stroke="#000" stroke-width="0.15" font-family="'Liberation Sans', sans-serif" letter-spacing="-0.3">Nov</text>
<text x="189.8" y="506.3" font-size="12" text-anchor="start" fill="#000" stroke="#000" stroke-width="0.15" font-family="'Liberation Sans', sans-serif" letter-spacing="0.5">Dec</text>
<text x="216.8" y="506.3" font-size="12" text-anchor="start" fill="#000" stroke="#000" stroke-width="0.15" font-family="'Liberation Sans', sans-serif" letter-spacing="0.35">2025</text>
<text x="262.8" y="506.3" font-size="12" text-anchor="start" fill="#000" stroke="#000" stroke-width="0.15" font-family="'Liberation Sans', sans-serif" letter-spacing="-0.3">Mar</text>
<text x="288.8" y="506.3" font-size="12" text-anchor="start" fill="#000" stroke="#000" stroke-width="0.15" font-family="'Liberation Sans', sans-serif" letter-spacing="-0.3">Apr</text>
<text x="313.8" y="506.3" font-size="12" text-anchor="start" fill="#000" stroke="#000" stroke-width="0.15" font-family="'Liberation Sans', sans-serif" letter-spacing="-0.3">May</text>
<text x="338.8" y="506.3" font-size="12" text-anchor="start" fill="#000" stroke="#000" stroke-width="0.15" font-family="'Liberation Sans', sans-serif" letter-spacing="-0.3">Jun</text>
<text x="364.8" y="506.3" font-size="12" text-anchor="start" fill="#000" stroke="#000" stroke-width="0.15" font-family="'Liberation Sans', sans-serif" letter-spacing="-0.3">Jul</text>
<text x="393.8" y="506.3" font-size="12" text-anchor="start" fill="#000" stroke="#000" stroke-width="0.15" font-family="'Liberation Sans', sans-serif" letter-spacing="-0.3">Aug</text>
<text x="419.8" y="506.3" font-size="12" text-anchor="start" fill="#000" stroke="#000" stroke-width="0.15" font-family="'Liberation Sans', sans-serif" letter-spacing="-0.3">Sep</text>
<text x="473.8" y="506.3" font-size="12" text-anchor="start" fill="#000" stroke="#000" stroke-width="0.15" font-family="'Liberation Sans', sans-serif" letter-spacing="-0.3">Nov</text>
<text x="498.8" y="506.3" font-size="12" text-anchor="start" fill="#000" stroke="#000" stroke-width="0.15" font-family="'Liberation Sans', sans-serif" letter-spacing="0.5">Dec</text>
<text x="526.8" y="506.3" font-size="12" text-anchor="start" fill="#000" stroke="#000" stroke-width="0.15" font-family="'Liberation Sans', sans-serif" letter-spacing="0.35">2026</text>
<text x="570.8" y="506.3" font-size="12" text-anchor="start" fill="#000" stroke="#000" stroke-width="0.15" font-family="'Liberation Sans', sans-serif" letter-spacing="-0.3">Mar</text>
</g>
</svg>
</body></html>
